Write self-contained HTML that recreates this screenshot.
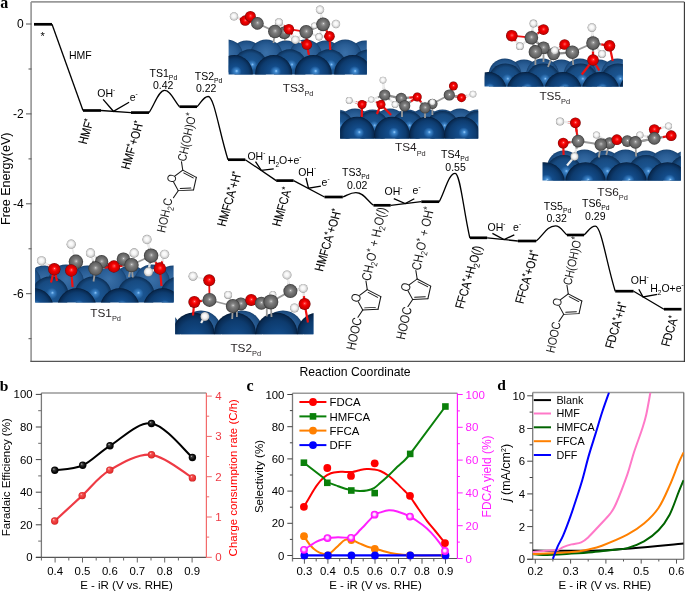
<!DOCTYPE html>
<html><head><meta charset="utf-8"><style>
html,body{margin:0;padding:0;background:#fff;overflow:hidden;}
svg{display:block;font-family:"Liberation Sans", sans-serif;will-change:transform;}
</style></head><body>
<svg width="685" height="592" viewBox="0 0 685 592">
<defs>
<radialGradient id="gC" cx="50%" cy="50%" r="50%" fx="52%" fy="45%">
 <stop offset="0" stop-color="#ececec"/><stop offset="0.12" stop-color="#a2a2a2"/><stop offset="0.35" stop-color="#7c7c7c"/><stop offset="0.8" stop-color="#606060"/><stop offset="1" stop-color="#363636"/></radialGradient>
<radialGradient id="gO" cx="50%" cy="50%" r="50%" fx="52%" fy="45%">
 <stop offset="0" stop-color="#ffb8b8"/><stop offset="0.12" stop-color="#ff3a3a"/><stop offset="0.4" stop-color="#f50000"/><stop offset="0.85" stop-color="#c80000"/><stop offset="1" stop-color="#700000"/></radialGradient>
<radialGradient id="gH" cx="50%" cy="50%" r="50%" fx="45%" fy="42%">
 <stop offset="0" stop-color="#ffffff"/><stop offset="0.5" stop-color="#f3f3f3"/><stop offset="0.85" stop-color="#cbcbcb"/><stop offset="1" stop-color="#8c8c8c"/></radialGradient>
<radialGradient id="gPdF" cx="50%" cy="50%" r="50%" fx="57%" fy="43%">
 <stop offset="0" stop-color="#9ad0ff"/><stop offset="0.09" stop-color="#3d86cc"/><stop offset="0.3" stop-color="#134c8a"/><stop offset="0.75" stop-color="#0d3b6e"/><stop offset="0.93" stop-color="#082a52"/><stop offset="1" stop-color="#041a36"/></radialGradient>
<radialGradient id="gPdM" cx="50%" cy="50%" r="50%" fx="57%" fy="43%">
 <stop offset="0" stop-color="#8cc6fa"/><stop offset="0.09" stop-color="#3a80c4"/><stop offset="0.3" stop-color="#1a5490"/><stop offset="0.75" stop-color="#174a80"/><stop offset="0.93" stop-color="#0f3763"/><stop offset="1" stop-color="#0a2a4e"/></radialGradient>
<radialGradient id="gPdF2" cx="50%" cy="50%" r="50%" fx="57%" fy="75%">
 <stop offset="0" stop-color="#9ad0ff"/><stop offset="0.09" stop-color="#3d86cc"/><stop offset="0.3" stop-color="#134c8a"/><stop offset="0.75" stop-color="#0d3b6e"/><stop offset="0.93" stop-color="#082a52"/><stop offset="1" stop-color="#041a36"/></radialGradient>
<radialGradient id="gPdB" cx="50%" cy="50%" r="50%" fx="50%" fy="40%">
 <stop offset="0" stop-color="#3a70a8"/><stop offset="0.6" stop-color="#2a5e96"/><stop offset="0.9" stop-color="#1e4f84"/><stop offset="1" stop-color="#163f6c"/></radialGradient>
<radialGradient id="gBlack" cx="50%" cy="50%" r="50%" fx="35%" fy="30%">
 <stop offset="0" stop-color="#d8d8d8"/><stop offset="0.25" stop-color="#404040"/><stop offset="0.7" stop-color="#0a0a0a"/><stop offset="1" stop-color="#000"/></radialGradient>
<radialGradient id="gRed" cx="50%" cy="50%" r="50%" fx="35%" fy="30%">
 <stop offset="0" stop-color="#ffd0d0"/><stop offset="0.3" stop-color="#f25050"/><stop offset="0.8" stop-color="#e83030"/><stop offset="1" stop-color="#c82020"/></radialGradient>
<radialGradient id="gMag" cx="50%" cy="50%" r="50%" fx="45%" fy="42%">
 <stop offset="0" stop-color="#ffffff"/><stop offset="0.35" stop-color="#ffd0ff"/><stop offset="0.6" stop-color="#ff40ff"/><stop offset="1" stop-color="#ff00ff"/></radialGradient>
</defs>
<rect width="685" height="592" fill="#fff"/>
<clipPath id="clTS3"><rect x="228.6" y="14.700000000000003" width="138.20000000000002" height="59.8"/></clipPath><g clip-path="url(#clTS3)"><circle cx="207.0" cy="57.0" r="16.5" fill="url(#gPdB)"/><circle cx="246.5" cy="57.0" r="16.5" fill="url(#gPdB)"/><circle cx="286.0" cy="57.0" r="16.5" fill="url(#gPdB)"/><circle cx="325.5" cy="57.0" r="16.5" fill="url(#gPdB)"/><circle cx="365.0" cy="57.0" r="16.5" fill="url(#gPdB)"/><circle cx="404.5" cy="57.0" r="16.5" fill="url(#gPdB)"/><circle cx="187.2" cy="56.0" r="16.5" fill="url(#gPdB)"/><circle cx="226.7" cy="56.0" r="16.5" fill="url(#gPdB)"/><circle cx="266.2" cy="56.0" r="16.5" fill="url(#gPdB)"/><circle cx="305.7" cy="56.0" r="16.5" fill="url(#gPdB)"/><circle cx="345.2" cy="56.0" r="16.5" fill="url(#gPdB)"/><circle cx="384.7" cy="56.0" r="16.5" fill="url(#gPdB)"/><circle cx="210.7" cy="66.8" r="17.5" fill="url(#gPdM)"/><circle cx="250.2" cy="66.8" r="17.5" fill="url(#gPdM)"/><circle cx="289.7" cy="66.8" r="17.5" fill="url(#gPdM)"/><circle cx="329.2" cy="66.8" r="17.5" fill="url(#gPdM)"/><circle cx="368.7" cy="66.8" r="17.5" fill="url(#gPdM)"/><circle cx="408.2" cy="66.8" r="17.5" fill="url(#gPdM)"/><circle cx="194.7" cy="73.5" r="18.5" fill="url(#gPdF)"/><circle cx="234.2" cy="73.5" r="18.5" fill="url(#gPdF)"/><circle cx="273.7" cy="73.5" r="18.5" fill="url(#gPdF)"/><circle cx="313.2" cy="73.5" r="18.5" fill="url(#gPdF)"/><circle cx="352.7" cy="73.5" r="18.5" fill="url(#gPdF)"/><circle cx="392.2" cy="73.5" r="18.5" fill="url(#gPdF)"/></g>
<line x1="245.2" y1="20.6" x2="239.60" y2="18.50" stroke="#e81010" stroke-width="2.3"/><line x1="239.60" y1="18.50" x2="234" y2="16.4" stroke="#e6e6e6" stroke-width="2.3"/><line x1="245.2" y1="20.6" x2="251.30" y2="22.00" stroke="#e81010" stroke-width="2.3"/><line x1="251.30" y1="22.00" x2="257.4" y2="23.4" stroke="#8c8c8c" stroke-width="2.3"/><line x1="250.4" y1="16.4" x2="253.90" y2="19.90" stroke="#e81010" stroke-width="2.3"/><line x1="253.90" y1="19.90" x2="257.4" y2="23.4" stroke="#8c8c8c" stroke-width="2.3"/><line x1="284.3" y1="32.7" x2="281.60" y2="27.45" stroke="#8c8c8c" stroke-width="2.3"/><line x1="281.60" y1="27.45" x2="278.9" y2="22.2" stroke="#e6e6e6" stroke-width="2.3"/><line x1="284.3" y1="32.7" x2="279.60" y2="32.10" stroke="#8c8c8c" stroke-width="2.3"/><line x1="279.60" y1="32.10" x2="274.9" y2="31.5" stroke="#8c8c8c" stroke-width="2.3"/><line x1="284.3" y1="32.7" x2="289.85" y2="36.30" stroke="#8c8c8c" stroke-width="2.3"/><line x1="289.85" y1="36.30" x2="295.4" y2="39.9" stroke="#e6e6e6" stroke-width="2.3"/><line x1="278.9" y1="22.2" x2="276.90" y2="26.85" stroke="#e6e6e6" stroke-width="2.3"/><line x1="276.90" y1="26.85" x2="274.9" y2="31.5" stroke="#8c8c8c" stroke-width="2.3"/><line x1="278.9" y1="22.2" x2="283.90" y2="25.70" stroke="#e6e6e6" stroke-width="2.3"/><line x1="283.90" y1="25.70" x2="288.9" y2="29.2" stroke="#e81010" stroke-width="2.3"/><line x1="274.9" y1="31.5" x2="281.90" y2="30.35" stroke="#8c8c8c" stroke-width="2.3"/><line x1="281.90" y1="30.35" x2="288.9" y2="29.2" stroke="#e81010" stroke-width="2.3"/><line x1="288.9" y1="29.2" x2="292.15" y2="34.55" stroke="#e81010" stroke-width="2.3"/><line x1="292.15" y1="34.55" x2="295.4" y2="39.9" stroke="#e6e6e6" stroke-width="2.3"/><line x1="314.3" y1="25.7" x2="310.25" y2="28.75" stroke="#e6e6e6" stroke-width="2.3"/><line x1="310.25" y1="28.75" x2="306.2" y2="31.8" stroke="#8c8c8c" stroke-width="2.3"/><line x1="314.3" y1="25.7" x2="318.70" y2="25.00" stroke="#e6e6e6" stroke-width="2.3"/><line x1="318.70" y1="25.00" x2="323.1" y2="24.3" stroke="#8c8c8c" stroke-width="2.3"/><line x1="306.2" y1="31.8" x2="314.65" y2="28.05" stroke="#8c8c8c" stroke-width="2.3"/><line x1="314.65" y1="28.05" x2="323.1" y2="24.3" stroke="#8c8c8c" stroke-width="2.3"/><line x1="306.2" y1="31.8" x2="300.80" y2="35.85" stroke="#8c8c8c" stroke-width="2.3"/><line x1="300.80" y1="35.85" x2="295.4" y2="39.9" stroke="#e6e6e6" stroke-width="2.3"/><line x1="306.2" y1="31.8" x2="312.60" y2="34.30" stroke="#8c8c8c" stroke-width="2.3"/><line x1="312.60" y1="34.30" x2="319" y2="36.8" stroke="#e6e6e6" stroke-width="2.3"/><line x1="306.2" y1="31.8" x2="306.55" y2="38.20" stroke="#8c8c8c" stroke-width="2.3"/><line x1="306.55" y1="38.20" x2="306.9" y2="44.6" stroke="#e81010" stroke-width="2.3"/><line x1="320" y1="9.7" x2="321.55" y2="17.00" stroke="#e6e6e6" stroke-width="2.3"/><line x1="321.55" y1="17.00" x2="323.1" y2="24.3" stroke="#8c8c8c" stroke-width="2.3"/><line x1="323.1" y1="24.3" x2="329.55" y2="24.15" stroke="#8c8c8c" stroke-width="2.3"/><line x1="329.55" y1="24.15" x2="336" y2="24" stroke="#e6e6e6" stroke-width="2.3"/><line x1="323.1" y1="24.3" x2="321.05" y2="30.55" stroke="#8c8c8c" stroke-width="2.3"/><line x1="321.05" y1="30.55" x2="319" y2="36.8" stroke="#e6e6e6" stroke-width="2.3"/><line x1="323.1" y1="24.3" x2="326.30" y2="30.25" stroke="#8c8c8c" stroke-width="2.3"/><line x1="326.30" y1="30.25" x2="329.5" y2="36.2" stroke="#e81010" stroke-width="2.3"/><line x1="295.4" y1="39.9" x2="301.15" y2="42.25" stroke="#e6e6e6" stroke-width="2.3"/><line x1="301.15" y1="42.25" x2="306.9" y2="44.6" stroke="#e81010" stroke-width="2.3"/><line x1="319" y1="36.8" x2="324.25" y2="36.50" stroke="#e6e6e6" stroke-width="2.3"/><line x1="324.25" y1="36.50" x2="329.5" y2="36.2" stroke="#e81010" stroke-width="2.3"/><line x1="306.9" y1="44.6" x2="308.9" y2="55" stroke="#ee1010" stroke-width="2.2"/><line x1="329.5" y1="36.2" x2="330.3" y2="50" stroke="#ee1010" stroke-width="2.2"/><line x1="274.9" y1="31.5" x2="273.5" y2="43" stroke="#9a9a9a" stroke-width="1.8"/><line x1="284" y1="33" x2="285" y2="41" stroke="#9a9a9a" stroke-width="1.8"/><line x1="323.1" y1="24.3" x2="320" y2="9.7" stroke="#eeeeee" stroke-width="1.8"/><line x1="323.1" y1="24.3" x2="336" y2="24" stroke="#eeeeee" stroke-width="1.8"/><line x1="257.4" y1="23.4" x2="274.9" y2="31.5" stroke="#9a9a9a" stroke-width="1.8"/><line x1="274.9" y1="31.5" x2="288.9" y2="29.2" stroke="#9a9a9a" stroke-width="1.8"/><line x1="288.9" y1="29.2" x2="306.2" y2="31.8" stroke="#ee1010" stroke-width="1.8"/><line x1="306.2" y1="31.8" x2="323.1" y2="24.3" stroke="#9a9a9a" stroke-width="1.8"/><circle cx="245.2" cy="20.6" r="5.25" fill="url(#gO)"/><circle cx="234" cy="16.4" r="4.20" fill="url(#gH)"/><circle cx="250.4" cy="16.4" r="5.46" fill="url(#gO)"/><circle cx="257.4" cy="23.4" r="6.30" fill="url(#gC)"/><circle cx="284.3" cy="32.7" r="6.30" fill="url(#gC)"/><circle cx="278.9" cy="22.2" r="3.99" fill="url(#gH)"/><circle cx="274.9" cy="31.5" r="6.83" fill="url(#gC)"/><circle cx="288.9" cy="29.2" r="5.25" fill="url(#gO)"/><circle cx="314.3" cy="25.7" r="3.15" fill="url(#gH)"/><circle cx="306.2" cy="31.8" r="6.83" fill="url(#gC)"/><circle cx="320" cy="9.7" r="4.20" fill="url(#gH)"/><circle cx="323.1" cy="24.3" r="6.83" fill="url(#gC)"/><circle cx="336" cy="24" r="4.20" fill="url(#gH)"/><circle cx="295.4" cy="39.9" r="4.20" fill="url(#gH)"/><circle cx="319" cy="36.8" r="3.68" fill="url(#gH)"/><circle cx="306.9" cy="44.6" r="5.25" fill="url(#gO)"/><circle cx="329.5" cy="36.2" r="5.25" fill="url(#gO)"/>
<text x="282.8" y="91.6" font-size="11.8" fill="#231f20">TS3<tspan font-size="7.4" dy="4.1">Pd</tspan></text>
<clipPath id="clTS4"><rect x="340.2" y="83.5" width="138.0" height="55.099999999999994"/></clipPath><g clip-path="url(#clTS4)"><circle cx="302.5" cy="126.0" r="16.5" fill="url(#gPdB)"/><circle cx="337.5" cy="126.0" r="16.5" fill="url(#gPdB)"/><circle cx="372.5" cy="126.0" r="16.5" fill="url(#gPdB)"/><circle cx="407.5" cy="126.0" r="16.5" fill="url(#gPdB)"/><circle cx="442.5" cy="126.0" r="16.5" fill="url(#gPdB)"/><circle cx="477.5" cy="126.0" r="16.5" fill="url(#gPdB)"/><circle cx="512.5" cy="126.0" r="16.5" fill="url(#gPdB)"/><circle cx="320.0" cy="125.0" r="16.5" fill="url(#gPdB)"/><circle cx="355.0" cy="125.0" r="16.5" fill="url(#gPdB)"/><circle cx="390.0" cy="125.0" r="16.5" fill="url(#gPdB)"/><circle cx="425.0" cy="125.0" r="16.5" fill="url(#gPdB)"/><circle cx="460.0" cy="125.0" r="16.5" fill="url(#gPdB)"/><circle cx="495.0" cy="125.0" r="16.5" fill="url(#gPdB)"/><circle cx="302.5" cy="127.5" r="16.5" fill="url(#gPdM)"/><circle cx="337.5" cy="127.5" r="16.5" fill="url(#gPdM)"/><circle cx="372.5" cy="127.5" r="16.5" fill="url(#gPdM)"/><circle cx="407.5" cy="127.5" r="16.5" fill="url(#gPdM)"/><circle cx="442.5" cy="127.5" r="16.5" fill="url(#gPdM)"/><circle cx="477.5" cy="127.5" r="16.5" fill="url(#gPdM)"/><circle cx="512.5" cy="127.5" r="16.5" fill="url(#gPdM)"/><circle cx="322.0" cy="134.5" r="17.8" fill="url(#gPdF)"/><circle cx="357.0" cy="134.5" r="17.8" fill="url(#gPdF)"/><circle cx="392.0" cy="134.5" r="17.8" fill="url(#gPdF)"/><circle cx="427.0" cy="134.5" r="17.8" fill="url(#gPdF)"/><circle cx="462.0" cy="134.5" r="17.8" fill="url(#gPdF)"/><circle cx="497.0" cy="134.5" r="17.8" fill="url(#gPdF)"/></g>
<line x1="349.2" y1="100.4" x2="355.60" y2="102.45" stroke="#e6e6e6" stroke-width="2.3"/><line x1="355.60" y1="102.45" x2="362" y2="104.5" stroke="#e81010" stroke-width="2.3"/><line x1="362" y1="104.5" x2="366.60" y2="102.00" stroke="#e81010" stroke-width="2.3"/><line x1="366.60" y1="102.00" x2="371.2" y2="99.5" stroke="#e6e6e6" stroke-width="2.3"/><line x1="371.2" y1="99.5" x2="377.95" y2="97.25" stroke="#e6e6e6" stroke-width="2.3"/><line x1="377.95" y1="97.25" x2="384.7" y2="95" stroke="#8c8c8c" stroke-width="2.3"/><line x1="371.2" y1="99.5" x2="376.10" y2="102.00" stroke="#e6e6e6" stroke-width="2.3"/><line x1="376.10" y1="102.00" x2="381" y2="104.5" stroke="#e81010" stroke-width="2.3"/><line x1="383" y1="80.1" x2="383.85" y2="87.55" stroke="#e6e6e6" stroke-width="2.3"/><line x1="383.85" y1="87.55" x2="384.7" y2="95" stroke="#8c8c8c" stroke-width="2.3"/><line x1="384.7" y1="95" x2="382.85" y2="99.75" stroke="#8c8c8c" stroke-width="2.3"/><line x1="382.85" y1="99.75" x2="381" y2="104.5" stroke="#e81010" stroke-width="2.3"/><line x1="384.7" y1="95" x2="392.95" y2="96.70" stroke="#8c8c8c" stroke-width="2.3"/><line x1="392.95" y1="96.70" x2="401.2" y2="98.4" stroke="#8c8c8c" stroke-width="2.3"/><line x1="384.7" y1="95" x2="389.90" y2="99.75" stroke="#8c8c8c" stroke-width="2.3"/><line x1="389.90" y1="99.75" x2="395.1" y2="104.5" stroke="#e6e6e6" stroke-width="2.3"/><line x1="401.2" y1="98.4" x2="402.95" y2="102.10" stroke="#8c8c8c" stroke-width="2.3"/><line x1="402.95" y1="102.10" x2="404.7" y2="105.8" stroke="#8c8c8c" stroke-width="2.3"/><line x1="401.2" y1="98.4" x2="398.15" y2="101.45" stroke="#8c8c8c" stroke-width="2.3"/><line x1="398.15" y1="101.45" x2="395.1" y2="104.5" stroke="#e6e6e6" stroke-width="2.3"/><line x1="401.2" y1="98.4" x2="409.25" y2="97.70" stroke="#8c8c8c" stroke-width="2.3"/><line x1="409.25" y1="97.70" x2="417.3" y2="97" stroke="#e81010" stroke-width="2.3"/><line x1="404.7" y1="105.8" x2="399.90" y2="105.15" stroke="#8c8c8c" stroke-width="2.3"/><line x1="399.90" y1="105.15" x2="395.1" y2="104.5" stroke="#e6e6e6" stroke-width="2.3"/><line x1="404.7" y1="105.8" x2="411.00" y2="101.40" stroke="#8c8c8c" stroke-width="2.3"/><line x1="411.00" y1="101.40" x2="417.3" y2="97" stroke="#e81010" stroke-width="2.3"/><line x1="417.3" y1="97" x2="421.15" y2="102.40" stroke="#e81010" stroke-width="2.3"/><line x1="421.15" y1="102.40" x2="425" y2="107.8" stroke="#8c8c8c" stroke-width="2.3"/><line x1="432.4" y1="103.8" x2="428.70" y2="105.80" stroke="#8c8c8c" stroke-width="2.3"/><line x1="428.70" y1="105.80" x2="425" y2="107.8" stroke="#8c8c8c" stroke-width="2.3"/><line x1="425" y1="107.8" x2="428.70" y2="105.00" stroke="#8c8c8c" stroke-width="2.3"/><line x1="428.70" y1="105.00" x2="432.4" y2="102.2" stroke="#e6e6e6" stroke-width="2.3"/><line x1="453.4" y1="86" x2="451.35" y2="90.50" stroke="#e81010" stroke-width="2.3"/><line x1="451.35" y1="90.50" x2="449.3" y2="95" stroke="#8c8c8c" stroke-width="2.3"/><line x1="449.3" y1="95" x2="455.40" y2="96.35" stroke="#8c8c8c" stroke-width="2.3"/><line x1="455.40" y1="96.35" x2="461.5" y2="97.7" stroke="#e81010" stroke-width="2.3"/><line x1="461.5" y1="97.7" x2="467.25" y2="95.90" stroke="#e81010" stroke-width="2.3"/><line x1="467.25" y1="95.90" x2="473" y2="94.1" stroke="#e6e6e6" stroke-width="2.3"/><line x1="362" y1="104.5" x2="361.8" y2="117" stroke="#ee1010" stroke-width="2.2"/><line x1="381" y1="104.5" x2="376.9" y2="114" stroke="#ee1010" stroke-width="2.2"/><line x1="381" y1="104.5" x2="391.1" y2="115" stroke="#ee1010" stroke-width="2.2"/><line x1="402" y1="108" x2="402" y2="117" stroke="#9a9a9a" stroke-width="1.8"/><line x1="425" y1="107.8" x2="425" y2="118" stroke="#9a9a9a" stroke-width="1.8"/><line x1="432.4" y1="104" x2="432.4" y2="115" stroke="#9a9a9a" stroke-width="1.8"/><line x1="384.7" y1="95" x2="383" y2="80.1" stroke="#eeeeee" stroke-width="1.8"/><line x1="432" y1="104" x2="449" y2="95" stroke="#9a9a9a" stroke-width="1.8"/><line x1="449.3" y1="95" x2="461.5" y2="97.7" stroke="#9a9a9a" stroke-width="1.8"/><line x1="461.5" y1="97.7" x2="473" y2="94.1" stroke="#eeeeee" stroke-width="1.8"/><line x1="349.2" y1="100.4" x2="362" y2="104.5" stroke="#eeeeee" stroke-width="1.8"/><circle cx="349.2" cy="100.4" r="3.44" fill="url(#gH)"/><circle cx="362" cy="104.5" r="4.47" fill="url(#gO)"/><circle cx="371.2" cy="99.5" r="3.10" fill="url(#gH)"/><circle cx="383" cy="80.1" r="3.44" fill="url(#gH)"/><circle cx="384.7" cy="95" r="5.59" fill="url(#gC)"/><circle cx="381" cy="104.5" r="4.47" fill="url(#gO)"/><circle cx="401.2" cy="98.4" r="5.59" fill="url(#gC)"/><circle cx="404.7" cy="105.8" r="5.59" fill="url(#gC)"/><circle cx="395.1" cy="104.5" r="3.44" fill="url(#gH)"/><circle cx="417.3" cy="97" r="4.47" fill="url(#gO)"/><circle cx="432.4" cy="103.8" r="5.16" fill="url(#gC)"/><circle cx="425" cy="107.8" r="5.59" fill="url(#gC)"/><circle cx="432.4" cy="102.2" r="3.10" fill="url(#gH)"/><circle cx="453.4" cy="86" r="4.47" fill="url(#gO)"/><circle cx="449.3" cy="95" r="5.59" fill="url(#gC)"/><circle cx="461.5" cy="97.7" r="4.47" fill="url(#gO)"/><circle cx="473" cy="94.1" r="3.44" fill="url(#gH)"/>
<text x="395.0" y="151.4" font-size="11.8" fill="#231f20">TS4<tspan font-size="7.4" dy="4.1">Pd</tspan></text>
<clipPath id="clTS5"><rect x="484.7" y="33.5" width="138.2" height="52.900000000000006"/></clipPath><g clip-path="url(#clTS5)"><circle cx="524.0" cy="76.0" r="16.5" fill="url(#gPdB)"/><circle cx="561.5" cy="76.0" r="16.5" fill="url(#gPdB)"/><circle cx="599.0" cy="76.0" r="16.5" fill="url(#gPdB)"/><circle cx="636.5" cy="76.0" r="16.5" fill="url(#gPdB)"/><circle cx="674.0" cy="76.0" r="16.5" fill="url(#gPdB)"/><circle cx="505.0" cy="75.0" r="16.5" fill="url(#gPdB)"/><circle cx="542.5" cy="75.0" r="16.5" fill="url(#gPdB)"/><circle cx="580.0" cy="75.0" r="16.5" fill="url(#gPdB)"/><circle cx="617.5" cy="75.0" r="16.5" fill="url(#gPdB)"/><circle cx="655.0" cy="75.0" r="16.5" fill="url(#gPdB)"/><circle cx="430.5" cy="81.0" r="17.5" fill="url(#gPdM)"/><circle cx="468.0" cy="81.0" r="17.5" fill="url(#gPdM)"/><circle cx="505.5" cy="81.0" r="17.5" fill="url(#gPdM)"/><circle cx="543.0" cy="81.0" r="17.5" fill="url(#gPdM)"/><circle cx="580.5" cy="81.0" r="17.5" fill="url(#gPdM)"/><circle cx="618.0" cy="81.0" r="17.5" fill="url(#gPdM)"/><circle cx="655.5" cy="81.0" r="17.5" fill="url(#gPdM)"/><circle cx="450.5" cy="90.5" r="18.5" fill="url(#gPdF)"/><circle cx="488.0" cy="90.5" r="18.5" fill="url(#gPdF)"/><circle cx="525.5" cy="90.5" r="18.5" fill="url(#gPdF)"/><circle cx="563.0" cy="90.5" r="18.5" fill="url(#gPdF)"/><circle cx="600.5" cy="90.5" r="18.5" fill="url(#gPdF)"/><circle cx="638.0" cy="90.5" r="18.5" fill="url(#gPdF)"/><circle cx="675.5" cy="90.5" r="18.5" fill="url(#gPdF)"/></g>
<line x1="511.8" y1="35.7" x2="515.85" y2="40.95" stroke="#e81010" stroke-width="2.3"/><line x1="515.85" y1="40.95" x2="519.9" y2="46.2" stroke="#e6e6e6" stroke-width="2.3"/><line x1="533.4" y1="23.5" x2="538.45" y2="26.55" stroke="#e6e6e6" stroke-width="2.3"/><line x1="538.45" y1="26.55" x2="543.5" y2="29.6" stroke="#e81010" stroke-width="2.3"/><line x1="533.4" y1="23.5" x2="532.40" y2="30.60" stroke="#e6e6e6" stroke-width="2.3"/><line x1="532.40" y1="30.60" x2="531.4" y2="37.7" stroke="#8c8c8c" stroke-width="2.3"/><line x1="543.5" y1="29.6" x2="537.45" y2="33.65" stroke="#e81010" stroke-width="2.3"/><line x1="537.45" y1="33.65" x2="531.4" y2="37.7" stroke="#8c8c8c" stroke-width="2.3"/><line x1="531.4" y1="37.7" x2="525.65" y2="41.95" stroke="#8c8c8c" stroke-width="2.3"/><line x1="525.65" y1="41.95" x2="519.9" y2="46.2" stroke="#e6e6e6" stroke-width="2.3"/><line x1="531.4" y1="37.7" x2="537.45" y2="42.75" stroke="#8c8c8c" stroke-width="2.3"/><line x1="537.45" y1="42.75" x2="543.5" y2="47.8" stroke="#8c8c8c" stroke-width="2.3"/><line x1="531.4" y1="37.7" x2="533.40" y2="44.80" stroke="#8c8c8c" stroke-width="2.3"/><line x1="533.40" y1="44.80" x2="535.4" y2="51.9" stroke="#8c8c8c" stroke-width="2.3"/><line x1="543.5" y1="47.8" x2="539.45" y2="49.85" stroke="#8c8c8c" stroke-width="2.3"/><line x1="539.45" y1="49.85" x2="535.4" y2="51.9" stroke="#8c8c8c" stroke-width="2.3"/><line x1="543.5" y1="47.8" x2="548.55" y2="50.85" stroke="#8c8c8c" stroke-width="2.3"/><line x1="548.55" y1="50.85" x2="553.6" y2="53.9" stroke="#8c8c8c" stroke-width="2.3"/><line x1="543.5" y1="47.8" x2="549.10" y2="49.15" stroke="#8c8c8c" stroke-width="2.3"/><line x1="549.10" y1="49.15" x2="554.7" y2="50.5" stroke="#e6e6e6" stroke-width="2.3"/><line x1="535.4" y1="51.9" x2="544.50" y2="52.90" stroke="#8c8c8c" stroke-width="2.3"/><line x1="544.50" y1="52.90" x2="553.6" y2="53.9" stroke="#8c8c8c" stroke-width="2.3"/><line x1="564.6" y1="44.5" x2="559.10" y2="49.20" stroke="#e81010" stroke-width="2.3"/><line x1="559.10" y1="49.20" x2="553.6" y2="53.9" stroke="#8c8c8c" stroke-width="2.3"/><line x1="564.6" y1="44.5" x2="559.65" y2="47.50" stroke="#e81010" stroke-width="2.3"/><line x1="559.65" y1="47.50" x2="554.7" y2="50.5" stroke="#e6e6e6" stroke-width="2.3"/><line x1="564.6" y1="44.5" x2="568.45" y2="48.35" stroke="#e81010" stroke-width="2.3"/><line x1="568.45" y1="48.35" x2="572.3" y2="52.2" stroke="#8c8c8c" stroke-width="2.3"/><line x1="553.6" y1="53.9" x2="562.95" y2="53.05" stroke="#8c8c8c" stroke-width="2.3"/><line x1="562.95" y1="53.05" x2="572.3" y2="52.2" stroke="#8c8c8c" stroke-width="2.3"/><line x1="591.9" y1="27.6" x2="592.45" y2="35.35" stroke="#e6e6e6" stroke-width="2.3"/><line x1="592.45" y1="35.35" x2="593" y2="43.1" stroke="#8c8c8c" stroke-width="2.3"/><line x1="593" y1="43.1" x2="601.25" y2="44.45" stroke="#8c8c8c" stroke-width="2.3"/><line x1="601.25" y1="44.45" x2="609.5" y2="45.8" stroke="#e81010" stroke-width="2.3"/><line x1="593" y1="43.1" x2="597.50" y2="48.50" stroke="#8c8c8c" stroke-width="2.3"/><line x1="597.50" y1="48.50" x2="602" y2="53.9" stroke="#e6e6e6" stroke-width="2.3"/><line x1="593" y1="43.1" x2="593.00" y2="51.55" stroke="#8c8c8c" stroke-width="2.3"/><line x1="593.00" y1="51.55" x2="593" y2="60" stroke="#e81010" stroke-width="2.3"/><line x1="609.5" y1="45.8" x2="605.75" y2="49.85" stroke="#e81010" stroke-width="2.3"/><line x1="605.75" y1="49.85" x2="602" y2="53.9" stroke="#e6e6e6" stroke-width="2.3"/><line x1="602" y1="53.9" x2="597.50" y2="56.95" stroke="#e6e6e6" stroke-width="2.3"/><line x1="597.50" y1="56.95" x2="593" y2="60" stroke="#e81010" stroke-width="2.3"/><line x1="535.4" y1="52" x2="535.4" y2="65" stroke="#9a9a9a" stroke-width="1.8"/><line x1="543.5" y1="48" x2="543.5" y2="62" stroke="#9a9a9a" stroke-width="1.8"/><line x1="553" y1="54" x2="548" y2="67" stroke="#9a9a9a" stroke-width="1.8"/><line x1="572.3" y1="52" x2="573.2" y2="65" stroke="#9a9a9a" stroke-width="1.8"/><line x1="593" y1="60" x2="581.8" y2="74.5" stroke="#ee1010" stroke-width="2.2"/><line x1="593" y1="60" x2="599.3" y2="70.5" stroke="#ee1010" stroke-width="2.2"/><line x1="609.5" y1="45.8" x2="612.8" y2="61" stroke="#ee1010" stroke-width="2.2"/><line x1="572.3" y1="52.2" x2="593" y2="43.1" stroke="#9a9a9a" stroke-width="1.8"/><line x1="593" y1="43.1" x2="591.9" y2="27.6" stroke="#eeeeee" stroke-width="1.8"/><line x1="511.8" y1="35.7" x2="531.4" y2="37.7" stroke="#ee1010" stroke-width="1.8"/><line x1="564.6" y1="44.5" x2="572.3" y2="52.2" stroke="#ee1010" stroke-width="1.8"/><circle cx="511.8" cy="35.7" r="5.82" fill="url(#gO)"/><circle cx="533.4" cy="23.5" r="3.88" fill="url(#gH)"/><circle cx="543.5" cy="29.6" r="5.33" fill="url(#gO)"/><circle cx="531.4" cy="37.7" r="6.79" fill="url(#gC)"/><circle cx="519.9" cy="46.2" r="3.88" fill="url(#gH)"/><circle cx="543.5" cy="47.8" r="6.30" fill="url(#gC)"/><circle cx="535.4" cy="51.9" r="6.79" fill="url(#gC)"/><circle cx="564.6" cy="44.5" r="5.33" fill="url(#gO)"/><circle cx="553.6" cy="53.9" r="6.30" fill="url(#gC)"/><circle cx="554.7" cy="50.5" r="3.88" fill="url(#gH)"/><circle cx="572.3" cy="52.2" r="6.79" fill="url(#gC)"/><circle cx="591.9" cy="27.6" r="4.37" fill="url(#gH)"/><circle cx="593" cy="43.1" r="6.79" fill="url(#gC)"/><circle cx="609.5" cy="45.8" r="5.82" fill="url(#gO)"/><circle cx="602" cy="53.9" r="3.88" fill="url(#gH)"/><circle cx="593" cy="60" r="5.82" fill="url(#gO)"/>
<text x="539.4" y="99.9" font-size="11.8" fill="#231f20">TS5<tspan font-size="7.4" dy="4.1">Pd</tspan></text>
<clipPath id="clTS6"><rect x="542.5" y="124.5" width="138.29999999999995" height="56.099999999999994"/></clipPath><g clip-path="url(#clTS6)"><circle cx="564.0" cy="167.5" r="17" fill="url(#gPdB)"/><circle cx="605.0" cy="167.5" r="17" fill="url(#gPdB)"/><circle cx="646.0" cy="167.5" r="17" fill="url(#gPdB)"/><circle cx="687.0" cy="167.5" r="17" fill="url(#gPdB)"/><circle cx="728.0" cy="167.5" r="17" fill="url(#gPdB)"/><circle cx="584.5" cy="166.5" r="17" fill="url(#gPdB)"/><circle cx="625.5" cy="166.5" r="17" fill="url(#gPdB)"/><circle cx="666.5" cy="166.5" r="17" fill="url(#gPdB)"/><circle cx="707.5" cy="166.5" r="17" fill="url(#gPdB)"/><circle cx="523.0" cy="173.5" r="18.5" fill="url(#gPdM)"/><circle cx="564.0" cy="173.5" r="18.5" fill="url(#gPdM)"/><circle cx="605.0" cy="173.5" r="18.5" fill="url(#gPdM)"/><circle cx="646.0" cy="173.5" r="18.5" fill="url(#gPdM)"/><circle cx="687.0" cy="173.5" r="18.5" fill="url(#gPdM)"/><circle cx="728.0" cy="173.5" r="18.5" fill="url(#gPdM)"/><circle cx="503.5" cy="182.5" r="20.3" fill="url(#gPdF)"/><circle cx="544.5" cy="182.5" r="20.3" fill="url(#gPdF)"/><circle cx="585.5" cy="182.5" r="20.3" fill="url(#gPdF)"/><circle cx="626.5" cy="182.5" r="20.3" fill="url(#gPdF)"/><circle cx="667.5" cy="182.5" r="20.3" fill="url(#gPdF)"/><circle cx="708.5" cy="182.5" r="20.3" fill="url(#gPdF)"/></g>
<line x1="560" y1="121.5" x2="567.70" y2="122.15" stroke="#e6e6e6" stroke-width="2.3"/><line x1="567.70" y1="122.15" x2="575.4" y2="122.8" stroke="#e81010" stroke-width="2.3"/><line x1="575.4" y1="122.8" x2="576.75" y2="131.95" stroke="#e81010" stroke-width="2.3"/><line x1="576.75" y1="131.95" x2="578.1" y2="141.1" stroke="#8c8c8c" stroke-width="2.3"/><line x1="563.2" y1="143.1" x2="570.65" y2="142.10" stroke="#e81010" stroke-width="2.3"/><line x1="570.65" y1="142.10" x2="578.1" y2="141.1" stroke="#8c8c8c" stroke-width="2.3"/><line x1="578.1" y1="141.1" x2="576.30" y2="148.85" stroke="#8c8c8c" stroke-width="2.3"/><line x1="576.30" y1="148.85" x2="574.5" y2="156.6" stroke="#e6e6e6" stroke-width="2.3"/><line x1="596.5" y1="135" x2="603.05" y2="139.05" stroke="#e6e6e6" stroke-width="2.3"/><line x1="603.05" y1="139.05" x2="609.6" y2="143.1" stroke="#8c8c8c" stroke-width="2.3"/><line x1="596.5" y1="135" x2="598.65" y2="139.75" stroke="#e6e6e6" stroke-width="2.3"/><line x1="598.65" y1="139.75" x2="600.8" y2="144.5" stroke="#8c8c8c" stroke-width="2.3"/><line x1="609.6" y1="143.1" x2="605.20" y2="143.80" stroke="#8c8c8c" stroke-width="2.3"/><line x1="605.20" y1="143.80" x2="600.8" y2="144.5" stroke="#8c8c8c" stroke-width="2.3"/><line x1="609.6" y1="143.1" x2="613.25" y2="141.40" stroke="#8c8c8c" stroke-width="2.3"/><line x1="613.25" y1="141.40" x2="616.9" y2="139.7" stroke="#e81010" stroke-width="2.3"/><line x1="609.6" y1="143.1" x2="618.45" y2="142.10" stroke="#8c8c8c" stroke-width="2.3"/><line x1="618.45" y1="142.10" x2="627.3" y2="141.1" stroke="#8c8c8c" stroke-width="2.3"/><line x1="600.8" y1="144.5" x2="608.85" y2="142.10" stroke="#8c8c8c" stroke-width="2.3"/><line x1="608.85" y1="142.10" x2="616.9" y2="139.7" stroke="#e81010" stroke-width="2.3"/><line x1="616.9" y1="139.7" x2="622.10" y2="140.40" stroke="#e81010" stroke-width="2.3"/><line x1="622.10" y1="140.40" x2="627.3" y2="141.1" stroke="#8c8c8c" stroke-width="2.3"/><line x1="627.3" y1="141.1" x2="633.60" y2="138.05" stroke="#8c8c8c" stroke-width="2.3"/><line x1="633.60" y1="138.05" x2="639.9" y2="135" stroke="#e6e6e6" stroke-width="2.3"/><line x1="627.3" y1="141.1" x2="631.35" y2="141.75" stroke="#8c8c8c" stroke-width="2.3"/><line x1="631.35" y1="141.75" x2="635.4" y2="142.4" stroke="#8c8c8c" stroke-width="2.3"/><line x1="639.9" y1="135" x2="637.65" y2="138.70" stroke="#e6e6e6" stroke-width="2.3"/><line x1="637.65" y1="138.70" x2="635.4" y2="142.4" stroke="#8c8c8c" stroke-width="2.3"/><line x1="639.9" y1="135" x2="647.10" y2="136.70" stroke="#e6e6e6" stroke-width="2.3"/><line x1="647.10" y1="136.70" x2="654.3" y2="138.4" stroke="#8c8c8c" stroke-width="2.3"/><line x1="635.4" y1="142.4" x2="644.85" y2="140.40" stroke="#8c8c8c" stroke-width="2.3"/><line x1="644.85" y1="140.40" x2="654.3" y2="138.4" stroke="#8c8c8c" stroke-width="2.3"/><line x1="654.3" y1="129.6" x2="654.30" y2="134.00" stroke="#e81010" stroke-width="2.3"/><line x1="654.30" y1="134.00" x2="654.3" y2="138.4" stroke="#8c8c8c" stroke-width="2.3"/><line x1="654.3" y1="129.6" x2="661.40" y2="127.80" stroke="#e81010" stroke-width="2.3"/><line x1="661.40" y1="127.80" x2="668.5" y2="126" stroke="#e6e6e6" stroke-width="2.3"/><line x1="654.3" y1="138.4" x2="662.75" y2="137.05" stroke="#8c8c8c" stroke-width="2.3"/><line x1="662.75" y1="137.05" x2="671.2" y2="135.7" stroke="#e81010" stroke-width="2.3"/><line x1="668.5" y1="126" x2="669.85" y2="130.85" stroke="#e6e6e6" stroke-width="2.3"/><line x1="669.85" y1="130.85" x2="671.2" y2="135.7" stroke="#e81010" stroke-width="2.3"/><line x1="563.2" y1="143" x2="563.6" y2="155" stroke="#ee1010" stroke-width="2.2"/><line x1="574.5" y1="156.6" x2="567" y2="165.5" stroke="#eeeeee" stroke-width="2.2"/><line x1="600.8" y1="144.5" x2="598.8" y2="157.5" stroke="#9a9a9a" stroke-width="1.8"/><line x1="609.6" y1="143" x2="606.2" y2="155" stroke="#9a9a9a" stroke-width="1.8"/><line x1="635.4" y1="142.4" x2="636.1" y2="156.5" stroke="#9a9a9a" stroke-width="1.8"/><line x1="578" y1="141" x2="575.4" y2="122.8" stroke="#ee1010" stroke-width="1.8"/><line x1="578" y1="141" x2="600.8" y2="144.5" stroke="#9a9a9a" stroke-width="1.8"/><line x1="635.4" y1="142.4" x2="654.3" y2="138.4" stroke="#9a9a9a" stroke-width="1.8"/><line x1="560" y1="121.5" x2="575.4" y2="122.8" stroke="#eeeeee" stroke-width="1.8"/><line x1="668.5" y1="126" x2="671.2" y2="135.7" stroke="#eeeeee" stroke-width="1.8"/><circle cx="560" cy="121.5" r="4.05" fill="url(#gH)"/><circle cx="575.4" cy="122.8" r="5.40" fill="url(#gO)"/><circle cx="563.2" cy="143.1" r="5.40" fill="url(#gO)"/><circle cx="578.1" cy="141.1" r="6.30" fill="url(#gC)"/><circle cx="574.5" cy="156.6" r="4.05" fill="url(#gH)"/><circle cx="596.5" cy="135" r="3.60" fill="url(#gH)"/><circle cx="609.6" cy="143.1" r="5.85" fill="url(#gC)"/><circle cx="600.8" cy="144.5" r="6.30" fill="url(#gC)"/><circle cx="616.9" cy="139.7" r="5.40" fill="url(#gO)"/><circle cx="627.3" cy="141.1" r="5.85" fill="url(#gC)"/><circle cx="639.9" cy="135" r="3.60" fill="url(#gH)"/><circle cx="635.4" cy="142.4" r="6.30" fill="url(#gC)"/><circle cx="654.3" cy="129.6" r="5.40" fill="url(#gO)"/><circle cx="654.3" cy="138.4" r="6.30" fill="url(#gC)"/><circle cx="668.5" cy="126" r="3.60" fill="url(#gH)"/><circle cx="671.2" cy="135.7" r="5.40" fill="url(#gO)"/>
<text x="597.2" y="196.0" font-size="11.8" fill="#231f20">TS6<tspan font-size="7.4" dy="4.1">Pd</tspan></text>
<clipPath id="clTS1"><rect x="35.2" y="239.60000000000002" width="138.39999999999998" height="62.89999999999998"/></clipPath><g clip-path="url(#clTS1)"><circle cx="1.5" cy="283.5" r="18" fill="url(#gPdB)"/><circle cx="44.5" cy="283.5" r="18" fill="url(#gPdB)"/><circle cx="87.5" cy="283.5" r="18" fill="url(#gPdB)"/><circle cx="130.5" cy="283.5" r="18" fill="url(#gPdB)"/><circle cx="173.5" cy="283.5" r="18" fill="url(#gPdB)"/><circle cx="216.5" cy="283.5" r="18" fill="url(#gPdB)"/><circle cx="-20.0" cy="282.5" r="18" fill="url(#gPdB)"/><circle cx="23.0" cy="282.5" r="18" fill="url(#gPdB)"/><circle cx="66.0" cy="282.5" r="18" fill="url(#gPdB)"/><circle cx="109.0" cy="282.5" r="18" fill="url(#gPdB)"/><circle cx="152.0" cy="282.5" r="18" fill="url(#gPdB)"/><circle cx="195.0" cy="282.5" r="18" fill="url(#gPdB)"/><circle cx="7.0" cy="295.3" r="18.7" fill="url(#gPdM)"/><circle cx="50.0" cy="295.3" r="18.7" fill="url(#gPdM)"/><circle cx="93.0" cy="295.3" r="18.7" fill="url(#gPdM)"/><circle cx="136.0" cy="295.3" r="18.7" fill="url(#gPdM)"/><circle cx="179.0" cy="295.3" r="18.7" fill="url(#gPdM)"/><circle cx="222.0" cy="295.3" r="18.7" fill="url(#gPdM)"/><circle cx="-9.2" cy="307.8" r="19.5" fill="url(#gPdF)"/><circle cx="33.8" cy="307.8" r="19.5" fill="url(#gPdF)"/><circle cx="76.8" cy="307.8" r="19.5" fill="url(#gPdF)"/><circle cx="119.8" cy="307.8" r="19.5" fill="url(#gPdF)"/><circle cx="162.8" cy="307.8" r="19.5" fill="url(#gPdF)"/><circle cx="205.8" cy="307.8" r="19.5" fill="url(#gPdF)"/></g>
<line x1="41.5" y1="260.8" x2="47.90" y2="265.00" stroke="#e6e6e6" stroke-width="2.3"/><line x1="47.90" y1="265.00" x2="54.3" y2="269.2" stroke="#e81010" stroke-width="2.3"/><line x1="75.9" y1="261.8" x2="73.55" y2="266.15" stroke="#8c8c8c" stroke-width="2.3"/><line x1="73.55" y1="266.15" x2="71.2" y2="270.5" stroke="#e81010" stroke-width="2.3"/><line x1="90.5" y1="253" x2="96.05" y2="257.40" stroke="#e6e6e6" stroke-width="2.3"/><line x1="96.05" y1="257.40" x2="101.6" y2="261.8" stroke="#8c8c8c" stroke-width="2.3"/><line x1="90.5" y1="253" x2="93.00" y2="260.75" stroke="#e6e6e6" stroke-width="2.3"/><line x1="93.00" y1="260.75" x2="95.5" y2="268.5" stroke="#8c8c8c" stroke-width="2.3"/><line x1="101.6" y1="261.8" x2="98.55" y2="265.15" stroke="#8c8c8c" stroke-width="2.3"/><line x1="98.55" y1="265.15" x2="95.5" y2="268.5" stroke="#8c8c8c" stroke-width="2.3"/><line x1="101.6" y1="261.8" x2="107.75" y2="264.15" stroke="#8c8c8c" stroke-width="2.3"/><line x1="107.75" y1="264.15" x2="113.9" y2="266.5" stroke="#e81010" stroke-width="2.3"/><line x1="95.5" y1="268.5" x2="104.70" y2="267.50" stroke="#8c8c8c" stroke-width="2.3"/><line x1="104.70" y1="267.50" x2="113.9" y2="266.5" stroke="#e81010" stroke-width="2.3"/><line x1="113.9" y1="266.5" x2="118.65" y2="262.80" stroke="#e81010" stroke-width="2.3"/><line x1="118.65" y1="262.80" x2="123.4" y2="259.1" stroke="#8c8c8c" stroke-width="2.3"/><line x1="113.9" y1="266.5" x2="122.70" y2="265.80" stroke="#e81010" stroke-width="2.3"/><line x1="122.70" y1="265.80" x2="131.5" y2="265.1" stroke="#8c8c8c" stroke-width="2.3"/><line x1="123.4" y1="259.1" x2="128.80" y2="256.05" stroke="#8c8c8c" stroke-width="2.3"/><line x1="128.80" y1="256.05" x2="134.2" y2="253" stroke="#e6e6e6" stroke-width="2.3"/><line x1="123.4" y1="259.1" x2="127.45" y2="262.10" stroke="#8c8c8c" stroke-width="2.3"/><line x1="127.45" y1="262.10" x2="131.5" y2="265.1" stroke="#8c8c8c" stroke-width="2.3"/><line x1="134.2" y1="253" x2="132.85" y2="259.05" stroke="#e6e6e6" stroke-width="2.3"/><line x1="132.85" y1="259.05" x2="131.5" y2="265.1" stroke="#8c8c8c" stroke-width="2.3"/><line x1="147" y1="239.5" x2="149.05" y2="247.60" stroke="#e6e6e6" stroke-width="2.3"/><line x1="149.05" y1="247.60" x2="151.1" y2="255.7" stroke="#8c8c8c" stroke-width="2.3"/><line x1="151.1" y1="255.7" x2="157.85" y2="255.00" stroke="#8c8c8c" stroke-width="2.3"/><line x1="157.85" y1="255.00" x2="164.6" y2="254.3" stroke="#e6e6e6" stroke-width="2.3"/><line x1="151.1" y1="255.7" x2="149.75" y2="263.80" stroke="#8c8c8c" stroke-width="2.3"/><line x1="149.75" y1="263.80" x2="148.4" y2="271.9" stroke="#e6e6e6" stroke-width="2.3"/><line x1="151.1" y1="255.7" x2="155.50" y2="262.10" stroke="#8c8c8c" stroke-width="2.3"/><line x1="155.50" y1="262.10" x2="159.9" y2="268.5" stroke="#e81010" stroke-width="2.3"/><line x1="164.6" y1="254.3" x2="162.25" y2="261.40" stroke="#e6e6e6" stroke-width="2.3"/><line x1="162.25" y1="261.40" x2="159.9" y2="268.5" stroke="#e81010" stroke-width="2.3"/><line x1="148.4" y1="271.9" x2="154.15" y2="270.20" stroke="#e6e6e6" stroke-width="2.3"/><line x1="154.15" y1="270.20" x2="159.9" y2="268.5" stroke="#e81010" stroke-width="2.3"/><line x1="54.3" y1="269.2" x2="51" y2="282.5" stroke="#ee1010" stroke-width="2.2"/><line x1="54.3" y1="269.2" x2="57" y2="281" stroke="#ee1010" stroke-width="2.2"/><line x1="71.2" y1="270.5" x2="72.6" y2="287" stroke="#ee1010" stroke-width="2.2"/><line x1="95.5" y1="268.5" x2="93.5" y2="281.5" stroke="#9a9a9a" stroke-width="1.8"/><line x1="131.5" y1="265" x2="132.8" y2="277.5" stroke="#9a9a9a" stroke-width="1.8"/><line x1="131.5" y1="265" x2="128.8" y2="277" stroke="#9a9a9a" stroke-width="1.8"/><line x1="159.9" y1="268.5" x2="161.5" y2="286" stroke="#ee1010" stroke-width="2.2"/><line x1="75.9" y1="261.8" x2="71.2" y2="244.2" stroke="#eeeeee" stroke-width="1.8"/><line x1="151.1" y1="255.7" x2="147" y2="239.5" stroke="#eeeeee" stroke-width="1.8"/><line x1="131.5" y1="265" x2="151.1" y2="255.7" stroke="#9a9a9a" stroke-width="1.8"/><line x1="41.5" y1="260.8" x2="54.3" y2="269.2" stroke="#eeeeee" stroke-width="1.8"/><line x1="151.1" y1="255.7" x2="164.6" y2="254.3" stroke="#eeeeee" stroke-width="1.8"/><circle cx="41.5" cy="260.8" r="4.63" fill="url(#gH)"/><circle cx="54.3" cy="269.2" r="6.18" fill="url(#gO)"/><circle cx="71.2" cy="244.2" r="4.63" fill="url(#gH)"/><circle cx="75.9" cy="261.8" r="7.21" fill="url(#gC)"/><circle cx="71.2" cy="270.5" r="6.18" fill="url(#gO)"/><circle cx="90.5" cy="253" r="4.63" fill="url(#gH)"/><circle cx="101.6" cy="261.8" r="6.70" fill="url(#gC)"/><circle cx="95.5" cy="268.5" r="7.21" fill="url(#gC)"/><circle cx="113.9" cy="266.5" r="6.18" fill="url(#gO)"/><circle cx="123.4" cy="259.1" r="6.70" fill="url(#gC)"/><circle cx="134.2" cy="253" r="4.63" fill="url(#gH)"/><circle cx="131.5" cy="265.1" r="7.21" fill="url(#gC)"/><circle cx="147" cy="239.5" r="4.63" fill="url(#gH)"/><circle cx="151.1" cy="255.7" r="7.21" fill="url(#gC)"/><circle cx="164.6" cy="254.3" r="4.63" fill="url(#gH)"/><circle cx="148.4" cy="271.9" r="4.63" fill="url(#gH)"/><circle cx="159.9" cy="268.5" r="6.18" fill="url(#gO)"/>
<text x="90.3" y="316.7" font-size="11.8" fill="#231f20">TS1<tspan font-size="7.4" dy="4.1">Pd</tspan></text>
<clipPath id="clTS2"><rect x="175.2" y="286.5" width="138.2" height="47.80000000000001"/></clipPath><g clip-path="url(#clTS2)"><circle cx="119.0" cy="331.0" r="20.5" fill="url(#gPdB)"/><circle cx="160.0" cy="331.0" r="20.5" fill="url(#gPdB)"/><circle cx="201.0" cy="331.0" r="20.5" fill="url(#gPdB)"/><circle cx="242.0" cy="331.0" r="20.5" fill="url(#gPdB)"/><circle cx="283.0" cy="331.0" r="20.5" fill="url(#gPdB)"/><circle cx="324.0" cy="331.0" r="20.5" fill="url(#gPdB)"/><circle cx="365.0" cy="331.0" r="20.5" fill="url(#gPdB)"/><circle cx="152.0" cy="333.6" r="21" fill="url(#gPdF2)"/><circle cx="193.5" cy="333.6" r="21" fill="url(#gPdF2)"/><circle cx="235.0" cy="333.6" r="21" fill="url(#gPdF2)"/><circle cx="276.5" cy="333.6" r="21" fill="url(#gPdF2)"/><circle cx="318.0" cy="333.6" r="21" fill="url(#gPdF2)"/><circle cx="359.5" cy="333.6" r="21" fill="url(#gPdF2)"/></g>
<line x1="194.3" y1="301.9" x2="201.90" y2="300.90" stroke="#e81010" stroke-width="2.3"/><line x1="201.90" y1="300.90" x2="209.5" y2="299.9" stroke="#8c8c8c" stroke-width="2.3"/><line x1="228.1" y1="294.9" x2="230.45" y2="300.45" stroke="#e6e6e6" stroke-width="2.3"/><line x1="230.45" y1="300.45" x2="232.8" y2="306" stroke="#8c8c8c" stroke-width="2.3"/><line x1="240.9" y1="303.9" x2="236.85" y2="304.95" stroke="#8c8c8c" stroke-width="2.3"/><line x1="236.85" y1="304.95" x2="232.8" y2="306" stroke="#8c8c8c" stroke-width="2.3"/><line x1="240.9" y1="303.9" x2="246.05" y2="301.90" stroke="#8c8c8c" stroke-width="2.3"/><line x1="246.05" y1="301.90" x2="251.2" y2="299.9" stroke="#e81010" stroke-width="2.3"/><line x1="251.2" y1="299.9" x2="256.30" y2="301.55" stroke="#e81010" stroke-width="2.3"/><line x1="256.30" y1="301.55" x2="261.4" y2="303.2" stroke="#8c8c8c" stroke-width="2.3"/><line x1="261.4" y1="303.2" x2="267.10" y2="298.85" stroke="#8c8c8c" stroke-width="2.3"/><line x1="267.10" y1="298.85" x2="272.8" y2="294.5" stroke="#e6e6e6" stroke-width="2.3"/><line x1="261.4" y1="303.2" x2="266.10" y2="302.55" stroke="#8c8c8c" stroke-width="2.3"/><line x1="266.10" y1="302.55" x2="270.8" y2="301.9" stroke="#8c8c8c" stroke-width="2.3"/><line x1="272.8" y1="294.5" x2="271.80" y2="298.20" stroke="#e6e6e6" stroke-width="2.3"/><line x1="271.80" y1="298.20" x2="270.8" y2="301.9" stroke="#8c8c8c" stroke-width="2.3"/><line x1="287" y1="274.9" x2="288.70" y2="283.00" stroke="#e6e6e6" stroke-width="2.3"/><line x1="288.70" y1="283.00" x2="290.4" y2="291.1" stroke="#8c8c8c" stroke-width="2.3"/><line x1="290.4" y1="291.1" x2="296.80" y2="289.75" stroke="#8c8c8c" stroke-width="2.3"/><line x1="296.80" y1="289.75" x2="303.2" y2="288.4" stroke="#e6e6e6" stroke-width="2.3"/><line x1="303.2" y1="288.4" x2="303.90" y2="296.15" stroke="#e6e6e6" stroke-width="2.3"/><line x1="303.90" y1="296.15" x2="304.6" y2="303.9" stroke="#e81010" stroke-width="2.3"/><line x1="294.5" y1="308" x2="299.55" y2="305.95" stroke="#e6e6e6" stroke-width="2.3"/><line x1="299.55" y1="305.95" x2="304.6" y2="303.9" stroke="#e81010" stroke-width="2.3"/><line x1="194.3" y1="301.9" x2="193" y2="315.5" stroke="#ee1010" stroke-width="2.2"/><line x1="204.9" y1="316.5" x2="201.1" y2="323" stroke="#eeeeee" stroke-width="2.2"/><line x1="232.8" y1="306" x2="232.2" y2="319" stroke="#9a9a9a" stroke-width="1.8"/><line x1="236.9" y1="305" x2="236.9" y2="317" stroke="#9a9a9a" stroke-width="1.8"/><line x1="270.8" y1="302" x2="271.5" y2="317" stroke="#9a9a9a" stroke-width="1.8"/><line x1="266.8" y1="302" x2="266.8" y2="316.5" stroke="#9a9a9a" stroke-width="1.8"/><line x1="304.6" y1="303.9" x2="308" y2="322.5" stroke="#ee1010" stroke-width="2.2"/><line x1="209.5" y1="299.9" x2="209.2" y2="280.3" stroke="#ee1010" stroke-width="1.8"/><line x1="209.5" y1="300" x2="232.8" y2="306" stroke="#9a9a9a" stroke-width="1.8"/><line x1="270.8" y1="302" x2="290.4" y2="291.1" stroke="#9a9a9a" stroke-width="1.8"/><line x1="290.4" y1="291.1" x2="287" y2="274.9" stroke="#eeeeee" stroke-width="1.8"/><line x1="193" y1="276.2" x2="209.2" y2="280.3" stroke="#eeeeee" stroke-width="1.8"/><line x1="290.4" y1="291.1" x2="303.2" y2="288.4" stroke="#eeeeee" stroke-width="1.8"/><circle cx="193" cy="276.2" r="4.50" fill="url(#gH)"/><circle cx="209.2" cy="280.3" r="6.00" fill="url(#gO)"/><circle cx="194.3" cy="301.9" r="6.00" fill="url(#gO)"/><circle cx="209.5" cy="299.9" r="7.00" fill="url(#gC)"/><circle cx="204.9" cy="316.5" r="4.50" fill="url(#gH)"/><circle cx="228.1" cy="294.9" r="4.00" fill="url(#gH)"/><circle cx="240.9" cy="303.9" r="6.50" fill="url(#gC)"/><circle cx="232.8" cy="306" r="7.00" fill="url(#gC)"/><circle cx="251.2" cy="299.9" r="6.00" fill="url(#gO)"/><circle cx="261.4" cy="303.2" r="6.50" fill="url(#gC)"/><circle cx="272.8" cy="294.5" r="3.50" fill="url(#gH)"/><circle cx="270.8" cy="301.9" r="7.50" fill="url(#gC)"/><circle cx="287" cy="274.9" r="4.50" fill="url(#gH)"/><circle cx="290.4" cy="291.1" r="7.00" fill="url(#gC)"/><circle cx="303.2" cy="288.4" r="4.50" fill="url(#gH)"/><circle cx="294.5" cy="308" r="4.50" fill="url(#gH)"/><circle cx="304.6" cy="303.9" r="6.00" fill="url(#gO)"/>
<text x="230.4" y="351.6" font-size="11.8" fill="#231f20">TS2<tspan font-size="7.4" dy="4.1">Pd</tspan></text>
<path d="M31.1,1.9 L684.4,1.9" stroke="#999" stroke-width="1.8" fill="none"/>
<path d="M31.1,1.9 L31.1,361.3" stroke="#959595" stroke-width="1.6" fill="none"/>
<path d="M30.3,361.4 L684.9,361.4" stroke="#555" stroke-width="1.1" fill="none"/>
<path d="M684.4,1.9 L684.4,361.9" stroke="#333" stroke-width="1.1" fill="none"/>
<line x1="26" y1="24.0" x2="31.5" y2="24.0" stroke="#555" stroke-width="1"/>
<text x="23.6" y="28.1" font-size="12" text-anchor="end" fill="#000" >0</text>
<line x1="26" y1="113.9" x2="31.5" y2="113.9" stroke="#555" stroke-width="1"/>
<text x="23.6" y="118.0" font-size="12" text-anchor="end" fill="#000" >-2</text>
<line x1="26" y1="203.8" x2="31.5" y2="203.8" stroke="#555" stroke-width="1"/>
<text x="23.6" y="207.9" font-size="12" text-anchor="end" fill="#000" >-4</text>
<line x1="26" y1="293.7" x2="31.5" y2="293.7" stroke="#555" stroke-width="1"/>
<text x="23.6" y="297.8" font-size="12" text-anchor="end" fill="#000" >-6</text>
<line x1="28.5" y1="69.0" x2="31.5" y2="69.0" stroke="#555" stroke-width="1"/>
<line x1="28.5" y1="158.9" x2="31.5" y2="158.9" stroke="#555" stroke-width="1"/>
<line x1="28.5" y1="248.8" x2="31.5" y2="248.8" stroke="#555" stroke-width="1"/>
<line x1="28.5" y1="338.7" x2="31.5" y2="338.7" stroke="#555" stroke-width="1"/>
<text transform="translate(10.2,178.8) rotate(-90)" font-size="12.5" text-anchor="middle">Free Energy(eV)</text>
<text x="355.1" y="375.6" font-size="12.2" text-anchor="middle" fill="#000" >Reaction Coordinate</text>
<text x="0.2" y="7.6" font-family="Liberation Serif" font-weight="bold" font-size="16">a</text>
<line x1="34" y1="24.3" x2="52" y2="24.3" stroke="#000" stroke-width="2.7"/>
<line x1="83" y1="110.5" x2="101" y2="110.5" stroke="#000" stroke-width="2.7"/>
<line x1="131" y1="112.6" x2="149" y2="112.6" stroke="#000" stroke-width="2.7"/>
<line x1="179.5" y1="106.7" x2="197" y2="106.7" stroke="#000" stroke-width="2.7"/>
<line x1="228" y1="159.7" x2="245.3" y2="159.7" stroke="#000" stroke-width="2.7"/>
<line x1="276.2" y1="180.6" x2="293.6" y2="180.6" stroke="#000" stroke-width="2.7"/>
<line x1="324.5" y1="197" x2="342.8" y2="197" stroke="#000" stroke-width="2.7"/>
<line x1="373.5" y1="205.3" x2="390.7" y2="205.3" stroke="#000" stroke-width="2.7"/>
<line x1="421.3" y1="201.7" x2="439.2" y2="201.7" stroke="#000" stroke-width="2.7"/>
<line x1="469.8" y1="237.8" x2="487.2" y2="237.8" stroke="#000" stroke-width="2.7"/>
<line x1="517.8" y1="241" x2="536.2" y2="241" stroke="#000" stroke-width="2.7"/>
<line x1="567" y1="235" x2="584" y2="235" stroke="#000" stroke-width="2.7"/>
<line x1="615.2" y1="291.2" x2="633.6" y2="291.2" stroke="#000" stroke-width="2.7"/>
<line x1="664" y1="309.2" x2="681.5" y2="309.2" stroke="#000" stroke-width="2.7"/>
<line x1="52" y1="24.3" x2="83" y2="110.5" stroke="#000" stroke-width="1.3"/>
<line x1="101" y1="110.5" x2="131" y2="112.6" stroke="#000" stroke-width="1.3"/>
<line x1="245.3" y1="159.7" x2="276.2" y2="180.6" stroke="#000" stroke-width="1.3"/>
<line x1="293.6" y1="180.6" x2="324.5" y2="197" stroke="#000" stroke-width="1.3"/>
<line x1="390.7" y1="205.3" x2="421.3" y2="201.7" stroke="#000" stroke-width="1.3"/>
<line x1="487.2" y1="237.8" x2="517.8" y2="241" stroke="#000" stroke-width="1.3"/>
<line x1="633.6" y1="291.2" x2="664" y2="309.2" stroke="#000" stroke-width="1.3"/>
<path d="M149,112.6 C154.50,104.83 158.42,90.4 164.7,90.4 C170.62,90.4 174.32,101.00 179.5,106.7" fill="none" stroke="#000" stroke-width="1.3"/>
<path d="M197,106.7 C200.92,103.13 203.16,96.5 208.2,96.5 C214.14,96.5 219.09,131.26 228,159.7" fill="none" stroke="#000" stroke-width="1.3"/>
<path d="M342.8,197 C347.38,195.46 350.00,192.6 355.9,192.6 C363.82,192.6 367.34,200.86 373.5,205.3" fill="none" stroke="#000" stroke-width="1.3"/>
<path d="M439.2,201.7 C444.76,191.76 448.74,173.3 455.1,173.3 C460.25,173.3 463.19,208.78 469.8,237.8" fill="none" stroke="#000" stroke-width="1.3"/>
<path d="M536.2,241 C542.96,235.72 546.82,225.9 555.5,225.9 C560.67,225.9 562.98,231.81 567,235" fill="none" stroke="#000" stroke-width="1.3"/>
<path d="M584,235 C587.95,231.92 590.21,226.2 595.3,226.2 C601.27,226.2 606.25,261.95 615.2,291.2" fill="none" stroke="#000" stroke-width="1.3"/>
<path d="M103.1,99.4 L113.4,111.3 L129.1,102.3" fill="none" stroke="#000" stroke-width="1.3"/>
<path d="M255.5,161.6 L261.3,170.4 L273.7,168.9" fill="none" stroke="#000" stroke-width="1.3"/>
<path d="M306,178 L308.5,188.2 L320.9,186.2" fill="none" stroke="#000" stroke-width="1.3"/>
<path d="M393.8,198.7 L405.2,203.5 L414.3,198.7" fill="none" stroke="#000" stroke-width="1.3"/>
<path d="M492.4,233.4 L504.1,239.6 L514.3,234.8" fill="none" stroke="#000" stroke-width="1.3"/>
<path d="M638.8,289.3 L643.1,297 L657.3,294.3" fill="none" stroke="#000" stroke-width="1.3"/>
<text x="40.6" y="40.3" font-size="11">*</text>
<text x="69.0" y="58.9" font-size="10.5" text-anchor="start" fill="#000" >HMF</text>
<text x="97.3" y="97.2" font-size="10.5">OH<tspan font-size="6.5" dy="-5.1">-</tspan></text>
<text x="129.7" y="100.6" font-size="10.5">e<tspan font-size="6.5" dy="-5.1">-</tspan></text>
<text x="149.6" y="77" font-size="10.5" fill="#000">TS1<tspan font-size="6.8" dy="3.1">Pd</tspan></text>
<text x="153.0" y="88.5" font-size="10.5" text-anchor="start" fill="#000" >0.42</text>
<text x="194.8" y="80" font-size="10.5" fill="#000">TS2<tspan font-size="6.8" dy="3.1">Pd</tspan></text>
<text x="196.0" y="92.4" font-size="10.5" text-anchor="start" fill="#000" >0.22</text>
<text x="247.4" y="159.7" font-size="10.5">OH<tspan font-size="6.5" dy="-5.1">-</tspan></text>
<text x="267.9" y="164.2" font-size="10.5">H<tspan font-size="6.5" dy="2.5">2</tspan><tspan dy="-2.5">O+e</tspan><tspan font-size="6.5" dy="-5.1">-</tspan></text>
<text x="298.2" y="175.5" font-size="10.5">OH<tspan font-size="6.5" dy="-5.1">-</tspan></text>
<text x="321.6" y="185.8" font-size="10.5">e<tspan font-size="6.5" dy="-5.1">-</tspan></text>
<text x="342" y="176.3" font-size="10.5" fill="#000">TS3<tspan font-size="6.8" dy="3.1">Pd</tspan></text>
<text x="346.9" y="189.4" font-size="10.5" text-anchor="start" fill="#000" >0.02</text>
<text x="384.5" y="195.2" font-size="10.5">OH<tspan font-size="6.5" dy="-5.1">-</tspan></text>
<text x="412.6" y="194" font-size="10.5">e<tspan font-size="6.5" dy="-5.1">-</tspan></text>
<text x="441.1" y="158" font-size="10.5" fill="#000">TS4<tspan font-size="6.8" dy="3.1">Pd</tspan></text>
<text x="445.3" y="170.7" font-size="10.5" text-anchor="start" fill="#000" >0.55</text>
<text x="487.5" y="230.8" font-size="10.5">OH<tspan font-size="6.5" dy="-5.1">-</tspan></text>
<text x="513.1" y="230.8" font-size="10.5">e<tspan font-size="6.5" dy="-5.1">-</tspan></text>
<text x="543.7" y="209.8" font-size="10.5" fill="#000">TS5<tspan font-size="6.8" dy="3.1">Pd</tspan></text>
<text x="546.4" y="222.0" font-size="10.5" text-anchor="start" fill="#000" >0.32</text>
<text x="582" y="206.7" font-size="10.5" fill="#000">TS6<tspan font-size="6.8" dy="3.1">Pd</tspan></text>
<text x="585.1" y="220.2" font-size="10.5" text-anchor="start" fill="#000" >0.29</text>
<text x="630.8" y="284.1" font-size="10.5">OH<tspan font-size="6.5" dy="-5.1">-</tspan></text>
<text x="650.2" y="292.4" font-size="10.5">H<tspan font-size="6.5" dy="2.5">2</tspan><tspan dy="-2.5">O+e</tspan><tspan font-size="6.5" dy="-5.1">-</tspan></text>
<text transform="matrix(0.2924,-0.9563,1.1716,0.2597,86.5,144.70000000000002)" font-size="10.5" text-anchor="start" stroke="#000" stroke-width="0.08">HMF<tspan font-size="7.5" dy="-3">*</tspan></text>
<text transform="matrix(0.2924,-0.9563,1.1716,0.2597,129.2,170.10000000000002)" font-size="10.5" text-anchor="start" stroke="#000" stroke-width="0.08">HMF<tspan font-size="7.5" dy="-3">*</tspan><tspan dy="3">+OH</tspan><tspan font-size="7.5" dy="-3">*</tspan></text>
<text transform="matrix(0.2924,-0.9563,1.1716,0.2597,225.2,227.10000000000002)" font-size="10.5" text-anchor="start" stroke="#000" stroke-width="0.08">HMFCA<tspan font-size="7.5" dy="-3">*</tspan><tspan dy="3">+H</tspan><tspan font-size="7.5" dy="-3">*</tspan></text>
<text transform="matrix(0.2924,-0.9563,1.1716,0.2597,280.2,227.0)" font-size="10.5" text-anchor="start" stroke="#000" stroke-width="0.08">HMFCA<tspan font-size="7.5" dy="-3">*</tspan></text>
<text transform="matrix(0.2924,-0.9563,1.1716,0.2597,322.7,272.0)" font-size="10.5" text-anchor="start" stroke="#000" stroke-width="0.08">HMFCA<tspan font-size="7.5" dy="-3">*</tspan><tspan dy="3">+OH</tspan><tspan font-size="7.5" dy="-3">*</tspan></text>
<text transform="matrix(0.2924,-0.9563,1.1716,0.2597,463.2,309.3)" font-size="10.5" text-anchor="start" stroke="#000" stroke-width="0.08">FFCA<tspan font-size="7.5" dy="-3">*</tspan><tspan dy="3">+H</tspan><tspan font-size="7" dy="2.5">2</tspan><tspan dy="-2.5">O(</tspan><tspan font-style="italic">l</tspan>)</text>
<text transform="matrix(0.2924,-0.9563,1.1716,0.2597,523.2,304.2)" font-size="10.5" text-anchor="start" stroke="#000" stroke-width="0.08">FFCA<tspan font-size="7.5" dy="-3">*</tspan><tspan dy="3">+OH</tspan><tspan font-size="7.5" dy="-3">*</tspan></text>
<text transform="matrix(0.2924,-0.9563,1.1716,0.2597,613.2,349.0)" font-size="10.5" text-anchor="start" stroke="#000" stroke-width="0.08">FDCA<tspan font-size="7.5" dy="-3">*</tspan><tspan dy="3">+H</tspan><tspan font-size="7.5" dy="-3">*</tspan></text>
<text transform="matrix(0.2924,-0.9563,1.1716,0.2597,669.2,347.1)" font-size="10.5" text-anchor="start" stroke="#000" stroke-width="0.08">FDCA<tspan font-size="7.5" dy="-3">*</tspan></text>
<g transform="matrix(0.2164,-0.9763,1.1716,0.2597,184.5,181.3)" font-size="10.4" fill="#1a1a1a"><g stroke="#1a1a1a" stroke-width="0.9" stroke-linecap="round"><line x1="3.24" y1="-8.65" x2="10.46" y2="-3.40"/><line x1="-3.24" y1="-8.65" x2="-10.46" y2="-3.40"/><line x1="10.46" y1="-3.40" x2="6.47" y2="8.90"/><line x1="6.47" y1="8.90" x2="-6.47" y2="8.90"/><line x1="-6.47" y1="8.90" x2="-10.46" y2="-3.40"/><line x1="7.96" y1="-2.17" x2="5.16" y2="6.44"/><line x1="-5.16" y1="6.44" x2="-7.96" y2="-2.17"/><line x1="10.46" y1="-3.40" x2="18.55" y2="-6.03"/><line x1="-10.46" y1="-3.40" x2="-18.55" y2="-6.03"/></g><text x="0.00" y="-7.40" text-anchor="middle">O</text><text x="19.05" y="-2.43">CH(OH)O<tspan font-size="8.5" dy="-2.8">*</tspan></text><text x="-20.05" y="-6.43" text-anchor="end">HOH<tspan font-size="7.5" dy="2.6">2</tspan><tspan dy="-2.6">C</tspan></text></g>
<g transform="matrix(0.2164,-0.9763,1.1716,0.2597,369,300.7)" font-size="11" fill="#1a1a1a"><g stroke="#1a1a1a" stroke-width="0.9" stroke-linecap="round"><line x1="3.24" y1="-8.65" x2="10.46" y2="-3.40"/><line x1="-3.24" y1="-8.65" x2="-10.46" y2="-3.40"/><line x1="10.46" y1="-3.40" x2="6.47" y2="8.90"/><line x1="6.47" y1="8.90" x2="-6.47" y2="8.90"/><line x1="-6.47" y1="8.90" x2="-10.46" y2="-3.40"/><line x1="7.96" y1="-2.17" x2="5.16" y2="6.44"/><line x1="-5.16" y1="6.44" x2="-7.96" y2="-2.17"/><line x1="10.46" y1="-3.40" x2="18.55" y2="-6.03"/><line x1="-10.46" y1="-3.40" x2="-18.55" y2="-6.03"/></g><text x="0.00" y="-7.40" text-anchor="middle">O</text><text x="19.05" y="-2.43">CH<tspan font-size="7.5" dy="2.6">2</tspan><tspan dy="-2.6">O</tspan><tspan font-size="8.5" dy="-2.8">*</tspan><tspan dy="2.8"> + H</tspan><tspan font-size="7.5" dy="2.6">2</tspan><tspan dy="-2.6">O(</tspan><tspan font-style="italic">l</tspan>)</text><text x="-19.05" y="-2.43" text-anchor="end">HOOC</text></g>
<g transform="matrix(0.2164,-0.9763,1.1716,0.2597,418.9,290.1)" font-size="11" fill="#1a1a1a"><g stroke="#1a1a1a" stroke-width="0.9" stroke-linecap="round"><line x1="3.24" y1="-8.65" x2="10.46" y2="-3.40"/><line x1="-3.24" y1="-8.65" x2="-10.46" y2="-3.40"/><line x1="10.46" y1="-3.40" x2="6.47" y2="8.90"/><line x1="6.47" y1="8.90" x2="-6.47" y2="8.90"/><line x1="-6.47" y1="8.90" x2="-10.46" y2="-3.40"/><line x1="7.96" y1="-2.17" x2="5.16" y2="6.44"/><line x1="-5.16" y1="6.44" x2="-7.96" y2="-2.17"/><line x1="10.46" y1="-3.40" x2="18.55" y2="-6.03"/><line x1="-10.46" y1="-3.40" x2="-18.55" y2="-6.03"/></g><text x="0.00" y="-7.40" text-anchor="middle">O</text><text x="19.05" y="-2.43">CH<tspan font-size="7.5" dy="2.6">2</tspan><tspan dy="-2.6">O</tspan><tspan font-size="8.5" dy="-2.8">*</tspan><tspan dy="2.8"> + OH</tspan><tspan font-size="8.5" dy="-2.8">*</tspan></text><text x="-19.05" y="-2.43" text-anchor="end">HOOC</text></g>
<g transform="matrix(0.2164,-0.9763,1.1716,0.2597,570,305)" font-size="10.4" fill="#1a1a1a"><g stroke="#1a1a1a" stroke-width="0.9" stroke-linecap="round"><line x1="3.24" y1="-8.65" x2="10.46" y2="-3.40"/><line x1="-3.24" y1="-8.65" x2="-10.46" y2="-3.40"/><line x1="10.46" y1="-3.40" x2="6.47" y2="8.90"/><line x1="6.47" y1="8.90" x2="-6.47" y2="8.90"/><line x1="-6.47" y1="8.90" x2="-10.46" y2="-3.40"/><line x1="7.96" y1="-2.17" x2="5.16" y2="6.44"/><line x1="-5.16" y1="6.44" x2="-7.96" y2="-2.17"/><line x1="10.46" y1="-3.40" x2="18.55" y2="-6.03"/><line x1="-10.46" y1="-3.40" x2="-18.55" y2="-6.03"/></g><text x="0.00" y="-7.40" text-anchor="middle">O</text><text x="19.05" y="-2.43">CH(OH)O<tspan font-size="8.5" dy="-2.8">*</tspan></text><text x="-19.55" y="-4.13" text-anchor="end">HOOC</text></g>
<path d="M41.4,392.9 L206.4,392.9" stroke="#999" stroke-width="1.5" fill="none"/>
<path d="M41.4,392.9 L41.4,557.4" stroke="#7a7a7a" stroke-width="1.3" fill="none"/>
<path d="M35.9,557.4 L206.4,557.4" stroke="#555" stroke-width="1.1" fill="none"/>
<path d="M206.4,392.9 L206.4,557.4" stroke="#f26a6a" stroke-width="1.2" fill="none"/>
<line x1="35.8" y1="557.4" x2="41.4" y2="557.4" stroke="#444" stroke-width="1"/>
<text x="32.6" y="561.4" font-size="11.4" text-anchor="end" fill="#000" >0</text>
<line x1="35.8" y1="524.8" x2="41.4" y2="524.8" stroke="#444" stroke-width="1"/>
<text x="32.6" y="528.8" font-size="11.4" text-anchor="end" fill="#000" >20</text>
<line x1="35.8" y1="492.2" x2="41.4" y2="492.2" stroke="#444" stroke-width="1"/>
<text x="32.6" y="496.2" font-size="11.4" text-anchor="end" fill="#000" >40</text>
<line x1="35.8" y1="459.6" x2="41.4" y2="459.6" stroke="#444" stroke-width="1"/>
<text x="32.6" y="463.6" font-size="11.4" text-anchor="end" fill="#000" >60</text>
<line x1="35.8" y1="427.0" x2="41.4" y2="427.0" stroke="#444" stroke-width="1"/>
<text x="32.6" y="431.0" font-size="11.4" text-anchor="end" fill="#000" >80</text>
<line x1="35.8" y1="394.4" x2="41.4" y2="394.4" stroke="#444" stroke-width="1"/>
<text x="32.6" y="398.4" font-size="11.4" text-anchor="end" fill="#000" >100</text>
<line x1="38.2" y1="541.1" x2="41.4" y2="541.1" stroke="#6a6a6a" stroke-width="1"/>
<line x1="38.2" y1="508.5" x2="41.4" y2="508.5" stroke="#6a6a6a" stroke-width="1"/>
<line x1="38.2" y1="475.9" x2="41.4" y2="475.9" stroke="#6a6a6a" stroke-width="1"/>
<line x1="38.2" y1="443.3" x2="41.4" y2="443.3" stroke="#6a6a6a" stroke-width="1"/>
<line x1="38.2" y1="410.7" x2="41.4" y2="410.7" stroke="#6a6a6a" stroke-width="1"/>
<line x1="206.4" y1="557.3" x2="211.8" y2="557.3" stroke="#f26a6a" stroke-width="1"/>
<text x="215.3" y="561.3" font-size="11.5" text-anchor="start" fill="#ee3a44" >0</text>
<line x1="206.4" y1="517.0" x2="211.8" y2="517.0" stroke="#f26a6a" stroke-width="1"/>
<text x="215.3" y="521.0" font-size="11.5" text-anchor="start" fill="#ee3a44" >1</text>
<line x1="206.4" y1="476.7" x2="211.8" y2="476.7" stroke="#f26a6a" stroke-width="1"/>
<text x="215.3" y="480.7" font-size="11.5" text-anchor="start" fill="#ee3a44" >2</text>
<line x1="206.4" y1="436.4" x2="211.8" y2="436.4" stroke="#f26a6a" stroke-width="1"/>
<text x="215.3" y="440.4" font-size="11.5" text-anchor="start" fill="#ee3a44" >3</text>
<line x1="206.4" y1="396.1" x2="211.8" y2="396.1" stroke="#f26a6a" stroke-width="1"/>
<text x="215.3" y="400.1" font-size="11.5" text-anchor="start" fill="#ee3a44" >4</text>
<line x1="206.4" y1="537.1" x2="209.2" y2="537.1" stroke="#f26a6a" stroke-width="1"/>
<line x1="206.4" y1="496.8" x2="209.2" y2="496.8" stroke="#f26a6a" stroke-width="1"/>
<line x1="206.4" y1="456.5" x2="209.2" y2="456.5" stroke="#f26a6a" stroke-width="1"/>
<line x1="206.4" y1="416.2" x2="209.2" y2="416.2" stroke="#f26a6a" stroke-width="1"/>
<line x1="55.1" y1="557.4" x2="55.1" y2="562.5" stroke="#666" stroke-width="1"/>
<text x="55.1" y="575.3" font-size="11.4" text-anchor="middle" fill="#000" >0.4</text>
<line x1="82.5" y1="557.4" x2="82.5" y2="562.5" stroke="#666" stroke-width="1"/>
<text x="82.5" y="575.3" font-size="11.4" text-anchor="middle" fill="#000" >0.5</text>
<line x1="109.9" y1="557.4" x2="109.9" y2="562.5" stroke="#666" stroke-width="1"/>
<text x="109.9" y="575.3" font-size="11.4" text-anchor="middle" fill="#000" >0.6</text>
<line x1="137.3" y1="557.4" x2="137.3" y2="562.5" stroke="#666" stroke-width="1"/>
<text x="137.3" y="575.3" font-size="11.4" text-anchor="middle" fill="#000" >0.7</text>
<line x1="164.7" y1="557.4" x2="164.7" y2="562.5" stroke="#666" stroke-width="1"/>
<text x="164.7" y="575.3" font-size="11.4" text-anchor="middle" fill="#000" >0.8</text>
<line x1="192.1" y1="557.4" x2="192.1" y2="562.5" stroke="#666" stroke-width="1"/>
<text x="192.1" y="575.3" font-size="11.4" text-anchor="middle" fill="#000" >0.9</text>
<line x1="41.4" y1="557.4" x2="41.4" y2="560.5" stroke="#666" stroke-width="1"/>
<line x1="68.8" y1="557.4" x2="68.8" y2="560.5" stroke="#666" stroke-width="1"/>
<line x1="96.2" y1="557.4" x2="96.2" y2="560.5" stroke="#666" stroke-width="1"/>
<line x1="123.6" y1="557.4" x2="123.6" y2="560.5" stroke="#666" stroke-width="1"/>
<line x1="151.0" y1="557.4" x2="151.0" y2="560.5" stroke="#666" stroke-width="1"/>
<line x1="178.4" y1="557.4" x2="178.4" y2="560.5" stroke="#666" stroke-width="1"/>
<text x="126.5" y="589.2" font-size="11.5" text-anchor="middle" fill="#000" >E - iR (V vs. RHE)</text>
<text transform="translate(10.1,477.25) rotate(-90)" font-size="11.5" text-anchor="middle">Faradaic Efficiency (%)</text>
<text transform="translate(236.6,477.75) rotate(-90)" font-size="11.46" text-anchor="middle" fill="#ff0000">Charge consumption rate (C/h)</text>
<text x="-0.3" y="390.5" font-family="Liberation Serif" font-weight="bold" font-size="15.5">b</text>
<path d="M54.80,470.30 C59.45,469.47 73.50,469.38 82.70,465.30 C91.90,461.22 98.53,452.77 110.00,445.80 C121.47,438.83 137.77,421.55 151.50,423.50 C165.23,425.45 185.58,451.83 192.40,457.50" fill="none" stroke="#000" stroke-width="2"/>
<path d="M54.70,521.00 C59.28,516.77 73.02,504.08 82.20,495.60 C91.38,487.12 98.25,476.90 109.80,470.10 C121.35,463.30 137.73,453.50 151.50,454.80 C165.27,456.10 185.58,474.05 192.40,477.90" fill="none" stroke="#ee3a44" stroke-width="2.2"/>
<circle cx="54.80" cy="470.30" r="3.7" fill="url(#gBlack)"/>
<circle cx="82.70" cy="465.30" r="3.7" fill="url(#gBlack)"/>
<circle cx="110.00" cy="445.80" r="3.7" fill="url(#gBlack)"/>
<circle cx="151.50" cy="423.50" r="3.7" fill="url(#gBlack)"/>
<circle cx="192.40" cy="457.50" r="3.7" fill="url(#gBlack)"/>
<circle cx="54.70" cy="521.00" r="3.7" fill="url(#gRed)"/>
<circle cx="82.20" cy="495.60" r="3.7" fill="url(#gRed)"/>
<circle cx="109.80" cy="470.10" r="3.7" fill="url(#gRed)"/>
<circle cx="151.50" cy="454.80" r="3.7" fill="url(#gRed)"/>
<circle cx="192.40" cy="477.90" r="3.7" fill="url(#gRed)"/>
<path d="M292.5,393.2 L457.4,393.2" stroke="#999" stroke-width="1.5" fill="none"/>
<path d="M292.5,393.2 L292.5,561.5" stroke="#7a7a7a" stroke-width="1.3" fill="none"/>
<path d="M292.5,558.5 L457.4,558.5" stroke="#555" stroke-width="1.1" fill="none"/>
<path d="M457.4,393.2 L457.4,558.5" stroke="#ff1fff" stroke-width="1.2" fill="none"/>
<line x1="287.3" y1="555.5" x2="292.5" y2="555.5" stroke="#444" stroke-width="1"/>
<text x="284.4" y="559.5" font-size="11.4" text-anchor="end" fill="#000" >0</text>
<line x1="457.4" y1="558.5" x2="462.7" y2="558.5" stroke="#ff1fff" stroke-width="1"/>
<text x="465.6" y="562.5" font-size="11.5" text-anchor="start" fill="#ff1fff" >0</text>
<line x1="287.3" y1="523.3" x2="292.5" y2="523.3" stroke="#444" stroke-width="1"/>
<text x="284.4" y="527.3" font-size="11.4" text-anchor="end" fill="#000" >20</text>
<line x1="457.4" y1="525.7" x2="462.7" y2="525.7" stroke="#ff1fff" stroke-width="1"/>
<text x="465.6" y="529.7" font-size="11.5" text-anchor="start" fill="#ff1fff" >20</text>
<line x1="287.3" y1="491.1" x2="292.5" y2="491.1" stroke="#444" stroke-width="1"/>
<text x="284.4" y="495.1" font-size="11.4" text-anchor="end" fill="#000" >40</text>
<line x1="457.4" y1="492.9" x2="462.7" y2="492.9" stroke="#ff1fff" stroke-width="1"/>
<text x="465.6" y="496.9" font-size="11.5" text-anchor="start" fill="#ff1fff" >40</text>
<line x1="287.3" y1="458.9" x2="292.5" y2="458.9" stroke="#444" stroke-width="1"/>
<text x="284.4" y="462.9" font-size="11.4" text-anchor="end" fill="#000" >60</text>
<line x1="457.4" y1="460.1" x2="462.7" y2="460.1" stroke="#ff1fff" stroke-width="1"/>
<text x="465.6" y="464.1" font-size="11.5" text-anchor="start" fill="#ff1fff" >60</text>
<line x1="287.3" y1="426.7" x2="292.5" y2="426.7" stroke="#444" stroke-width="1"/>
<text x="284.4" y="430.7" font-size="11.4" text-anchor="end" fill="#000" >80</text>
<line x1="457.4" y1="427.3" x2="462.7" y2="427.3" stroke="#ff1fff" stroke-width="1"/>
<text x="465.6" y="431.3" font-size="11.5" text-anchor="start" fill="#ff1fff" >80</text>
<line x1="287.3" y1="394.5" x2="292.5" y2="394.5" stroke="#444" stroke-width="1"/>
<text x="284.4" y="398.5" font-size="11.4" text-anchor="end" fill="#000" >100</text>
<line x1="457.4" y1="394.5" x2="462.7" y2="394.5" stroke="#ff1fff" stroke-width="1"/>
<text x="465.6" y="398.5" font-size="11.5" text-anchor="start" fill="#ff1fff" >100</text>
<line x1="289.9" y1="539.4" x2="292.5" y2="539.4" stroke="#444" stroke-width="1"/>
<line x1="457.4" y1="542.1" x2="459.9" y2="542.1" stroke="#ff1fff" stroke-width="1"/>
<line x1="289.9" y1="507.2" x2="292.5" y2="507.2" stroke="#444" stroke-width="1"/>
<line x1="457.4" y1="509.3" x2="459.9" y2="509.3" stroke="#ff1fff" stroke-width="1"/>
<line x1="289.9" y1="475.0" x2="292.5" y2="475.0" stroke="#444" stroke-width="1"/>
<line x1="457.4" y1="476.5" x2="459.9" y2="476.5" stroke="#ff1fff" stroke-width="1"/>
<line x1="289.9" y1="442.8" x2="292.5" y2="442.8" stroke="#444" stroke-width="1"/>
<line x1="457.4" y1="443.7" x2="459.9" y2="443.7" stroke="#ff1fff" stroke-width="1"/>
<line x1="289.9" y1="410.6" x2="292.5" y2="410.6" stroke="#444" stroke-width="1"/>
<line x1="457.4" y1="410.9" x2="459.9" y2="410.9" stroke="#ff1fff" stroke-width="1"/>
<line x1="304.4" y1="558.5" x2="304.4" y2="563.7" stroke="#555" stroke-width="1"/>
<text x="304.4" y="575.3" font-size="11.4" text-anchor="middle" fill="#000" >0.3</text>
<line x1="327.9" y1="558.5" x2="327.9" y2="563.7" stroke="#555" stroke-width="1"/>
<text x="327.9" y="575.3" font-size="11.4" text-anchor="middle" fill="#000" >0.4</text>
<line x1="351.4" y1="558.5" x2="351.4" y2="563.7" stroke="#555" stroke-width="1"/>
<text x="351.4" y="575.3" font-size="11.4" text-anchor="middle" fill="#000" >0.5</text>
<line x1="375.0" y1="558.5" x2="375.0" y2="563.7" stroke="#555" stroke-width="1"/>
<text x="375.0" y="575.3" font-size="11.4" text-anchor="middle" fill="#000" >0.6</text>
<line x1="398.5" y1="558.5" x2="398.5" y2="563.7" stroke="#555" stroke-width="1"/>
<text x="398.5" y="575.3" font-size="11.4" text-anchor="middle" fill="#000" >0.7</text>
<line x1="422.0" y1="558.5" x2="422.0" y2="563.7" stroke="#555" stroke-width="1"/>
<text x="422.0" y="575.3" font-size="11.4" text-anchor="middle" fill="#000" >0.8</text>
<line x1="445.5" y1="558.5" x2="445.5" y2="563.7" stroke="#555" stroke-width="1"/>
<text x="445.5" y="575.3" font-size="11.4" text-anchor="middle" fill="#000" >0.9</text>
<line x1="316.2" y1="558.5" x2="316.2" y2="561.4" stroke="#555" stroke-width="1"/>
<line x1="339.7" y1="558.5" x2="339.7" y2="561.4" stroke="#555" stroke-width="1"/>
<line x1="363.2" y1="558.5" x2="363.2" y2="561.4" stroke="#555" stroke-width="1"/>
<line x1="386.7" y1="558.5" x2="386.7" y2="561.4" stroke="#555" stroke-width="1"/>
<line x1="410.2" y1="558.5" x2="410.2" y2="561.4" stroke="#555" stroke-width="1"/>
<line x1="433.8" y1="558.5" x2="433.8" y2="561.4" stroke="#555" stroke-width="1"/>
<text x="375.5" y="589.2" font-size="11.5" text-anchor="middle" fill="#000" >E - iR (V vs. RHE)</text>
<text transform="translate(262.9,476.5) rotate(-90)" font-size="11.56" text-anchor="middle">Selectivity (%)</text>
<text transform="translate(490.8,476.4) rotate(-90)" font-size="12" text-anchor="middle" fill="#ff1fff">FDCA yield (%)</text>
<text x="246.6" y="390.5" font-family="Liberation Serif" font-weight="bold" font-size="16">c</text>
<path d="M303.90,506.80 C304.82,505.23 307.30,500.88 309.40,497.40 C311.50,493.92 314.12,489.20 316.50,485.90 C318.88,482.60 321.30,479.70 323.70,477.60 C326.10,475.50 328.50,474.25 330.90,473.30 C333.30,472.35 335.70,472.13 338.10,471.90 C340.50,471.67 342.92,471.90 345.30,471.90 C347.68,471.90 350.02,472.18 352.40,471.90 C354.78,471.62 357.20,470.67 359.60,470.20 C362.00,469.73 364.40,469.23 366.80,469.10 C369.20,468.97 371.73,469.08 374.00,469.40 C376.27,469.72 377.92,469.90 380.40,471.00 C382.88,472.10 386.08,473.90 388.90,476.00 C391.72,478.10 394.48,480.92 397.30,483.60 C400.12,486.28 403.68,489.95 405.80,492.10 C407.92,494.25 407.88,493.68 410.00,496.50 C412.12,499.32 415.68,504.95 418.50,509.00 C421.32,513.05 424.10,517.13 426.90,520.80 C429.70,524.47 432.28,527.28 435.30,531.00 C438.32,534.72 443.38,541.08 445.00,543.10" fill="none" stroke="#ff0000" stroke-width="2"/>
<path d="M303.9,462.7 L323.7,478 L323.70,478.00 C324.30,478.67 324.90,480.63 327.30,482.00 C329.70,483.37 335.10,485.07 338.10,486.20 C341.10,487.33 342.92,488.12 345.30,488.80 C347.68,489.48 350.02,489.93 352.40,490.30 C354.78,490.67 357.20,490.97 359.60,491.00 C362.00,491.03 364.40,490.98 366.80,490.50 C369.20,490.02 371.73,489.38 374.00,488.10 C376.27,486.82 377.92,484.95 380.40,482.80 C382.88,480.65 386.08,477.87 388.90,475.20 C391.72,472.53 394.63,469.33 397.30,466.80 C399.97,464.27 402.75,462.15 404.90,460.00 C407.05,457.85 409.32,454.92 410.20,453.90 L445.4,406.5" fill="none" stroke="#0a800a" stroke-width="2"/>
<path d="M304.00,536.20 C305.07,537.75 308.30,543.03 310.40,545.50 C312.50,547.97 314.53,549.62 316.60,551.00 C318.67,552.38 320.93,553.27 322.80,553.80 C324.67,554.33 326.15,554.67 327.80,554.20 C329.45,553.73 330.83,552.55 332.70,551.00 C334.57,549.45 336.93,546.75 339.00,544.90 C341.07,543.05 343.05,540.78 345.10,539.90 C347.15,539.02 348.82,538.98 351.30,539.60 C353.78,540.22 357.30,542.42 360.00,543.60 C362.70,544.78 365.02,545.87 367.50,546.70 C369.98,547.53 372.32,547.88 374.90,548.60 C377.48,549.32 379.65,550.13 383.00,551.00 C386.35,551.87 390.50,553.08 395.00,553.80 C399.50,554.52 401.67,555.05 410.00,555.30 C418.33,555.55 439.17,555.30 445.00,555.30" fill="none" stroke="#ff8000" stroke-width="2"/>
<path d="M304.00,549.80 C305.07,549.08 308.30,546.85 310.40,545.50 C312.50,544.15 314.53,542.73 316.60,541.70 C318.67,540.67 320.93,539.92 322.80,539.30 C324.67,538.68 325.73,538.32 327.80,538.00 C329.87,537.68 332.93,537.50 335.20,537.40 C337.47,537.30 339.33,537.33 341.40,537.40 C343.47,537.47 345.95,537.73 347.60,537.80 C349.25,537.87 349.85,538.38 351.30,537.80 C352.75,537.22 354.85,535.60 356.30,534.30 C357.75,533.00 358.55,531.55 360.00,530.00 C361.45,528.45 362.58,527.52 365.00,525.00 C367.42,522.48 371.93,517.00 374.50,514.90 C377.07,512.80 378.00,513.17 380.40,512.40 C382.80,511.63 386.08,510.45 388.90,510.30 C391.72,510.15 393.78,510.45 397.30,511.50 C400.82,512.55 405.77,514.35 410.00,516.60 C414.23,518.85 419.18,522.33 422.70,525.00 C426.22,527.67 428.28,529.63 431.10,532.60 C433.92,535.57 437.28,539.73 439.60,542.80 C441.92,545.87 444.10,549.63 445.00,551.00" fill="none" stroke="#ff1fff" stroke-width="2"/>
<path d="M304,555.4 L445,555.4" fill="none" stroke="#0000ff" stroke-width="2.4"/>
<rect x="300.60" y="459.40" width="6.6" height="6.6" fill="#0a800a"/>
<rect x="324.00" y="479.50" width="6.6" height="6.6" fill="#0a800a"/>
<rect x="348.00" y="487.20" width="6.6" height="6.6" fill="#0a800a"/>
<rect x="371.40" y="489.80" width="6.6" height="6.6" fill="#0a800a"/>
<rect x="406.90" y="450.60" width="6.6" height="6.6" fill="#0a800a"/>
<rect x="442.10" y="403.20" width="6.6" height="6.6" fill="#0a800a"/>
<circle cx="304" cy="536.2" r="3.9" fill="#ff8000"/>
<circle cx="327.8" cy="555.3" r="3.9" fill="#ff8000"/>
<circle cx="351.3" cy="540.1" r="3.9" fill="#ff8000"/>
<circle cx="374.8" cy="549" r="3.9" fill="#ff8000"/>
<circle cx="410" cy="555.3" r="3.9" fill="#ff8000"/>
<circle cx="445" cy="555.3" r="3.9" fill="#ff8000"/>
<circle cx="304.4" cy="555.4" r="3.9" fill="#0000ff"/>
<circle cx="327.91999999999996" cy="555.4" r="3.9" fill="#0000ff"/>
<circle cx="351.44" cy="555.4" r="3.9" fill="#0000ff"/>
<circle cx="374.96" cy="555.4" r="3.9" fill="#0000ff"/>
<circle cx="410.24" cy="555.4" r="3.9" fill="#0000ff"/>
<circle cx="445.52" cy="555.4" r="3.9" fill="#0000ff"/>
<circle cx="303.9" cy="506.8" r="3.9" fill="#ff0000"/>
<circle cx="327.3" cy="468" r="3.9" fill="#ff0000"/>
<circle cx="351" cy="475.9" r="3.9" fill="#ff0000"/>
<circle cx="374.7" cy="463.3" r="3.9" fill="#ff0000"/>
<circle cx="410" cy="495.8" r="3.9" fill="#ff0000"/>
<circle cx="445" cy="543.1" r="3.9" fill="#ff0000"/>
<circle cx="304.00" cy="549.80" r="3.9" fill="url(#gMag)"/>
<circle cx="327.50" cy="538.10" r="3.9" fill="url(#gMag)"/>
<circle cx="351.10" cy="537.80" r="3.9" fill="url(#gMag)"/>
<circle cx="374.60" cy="514.70" r="3.9" fill="url(#gMag)"/>
<circle cx="410.00" cy="516.60" r="3.9" fill="url(#gMag)"/>
<circle cx="445.00" cy="551.00" r="3.9" fill="url(#gMag)"/>
<line x1="299.4" y1="402" x2="326.4" y2="402" stroke="#ff0000" stroke-width="2"/>
<circle cx="313" cy="402" r="3.9" fill="#ff0000"/>
<text x="329.6" y="406.1" font-size="11.4" text-anchor="start" fill="#000" >FDCA</text>
<line x1="299.4" y1="416.4" x2="326.4" y2="416.4" stroke="#0a800a" stroke-width="2"/>
<rect x="309.7" y="413.09999999999997" width="6.6" height="6.6" fill="#0a800a"/>
<text x="329.6" y="420.5" font-size="11.4" text-anchor="start" fill="#000" >HMFCA</text>
<line x1="299.4" y1="430.6" x2="326.4" y2="430.6" stroke="#ff8000" stroke-width="2"/>
<circle cx="313" cy="430.6" r="3.9" fill="#ff8000"/>
<text x="329.6" y="434.7" font-size="11.4" text-anchor="start" fill="#000" >FFCA</text>
<line x1="299.4" y1="445.1" x2="326.4" y2="445.1" stroke="#0000ff" stroke-width="2"/>
<circle cx="313" cy="445.1" r="3.9" fill="#0000ff"/>
<text x="329.6" y="449.2" font-size="11.4" text-anchor="start" fill="#000" >DFF</text>
<defs><clipPath id="clipd"><rect x="532.7" y="392.6" width="151.0999999999999" height="166.69999999999993"/></clipPath></defs>
<path d="M532.7,392.6 L683.8,392.6" stroke="#999" stroke-width="1.5" fill="none"/>
<path d="M683.8,392.6 L683.8,559.3" stroke="#555" stroke-width="1.1" fill="none"/>
<path d="M532.7,392.6 L532.7,559.3" stroke="#7a7a7a" stroke-width="1.3" fill="none"/>
<path d="M527.2,559.3 L683.8,559.3" stroke="#555" stroke-width="1.1" fill="none"/>
<line x1="527.2" y1="559.3" x2="532.7" y2="559.3" stroke="#444" stroke-width="1"/>
<text x="525.2" y="563.3" font-size="11.4" text-anchor="end" fill="#000" >0</text>
<line x1="527.2" y1="526.6" x2="532.7" y2="526.6" stroke="#444" stroke-width="1"/>
<text x="525.2" y="530.6" font-size="11.4" text-anchor="end" fill="#000" >2</text>
<line x1="527.2" y1="493.9" x2="532.7" y2="493.9" stroke="#444" stroke-width="1"/>
<text x="525.2" y="497.9" font-size="11.4" text-anchor="end" fill="#000" >4</text>
<line x1="527.2" y1="461.2" x2="532.7" y2="461.2" stroke="#444" stroke-width="1"/>
<text x="525.2" y="465.2" font-size="11.4" text-anchor="end" fill="#000" >6</text>
<line x1="527.2" y1="428.5" x2="532.7" y2="428.5" stroke="#444" stroke-width="1"/>
<text x="525.2" y="432.5" font-size="11.4" text-anchor="end" fill="#000" >8</text>
<line x1="527.2" y1="395.8" x2="532.7" y2="395.8" stroke="#444" stroke-width="1"/>
<text x="525.2" y="399.8" font-size="11.4" text-anchor="end" fill="#000" >10</text>
<line x1="529.6" y1="542.9" x2="532.7" y2="542.9" stroke="#444" stroke-width="1"/>
<line x1="529.6" y1="510.2" x2="532.7" y2="510.2" stroke="#444" stroke-width="1"/>
<line x1="529.6" y1="477.5" x2="532.7" y2="477.5" stroke="#444" stroke-width="1"/>
<line x1="529.6" y1="444.8" x2="532.7" y2="444.8" stroke="#444" stroke-width="1"/>
<line x1="529.6" y1="412.1" x2="532.7" y2="412.1" stroke="#444" stroke-width="1"/>
<line x1="535.3" y1="559.3" x2="535.3" y2="563.6" stroke="#555" stroke-width="1"/>
<text x="535.3" y="575.3" font-size="11.4" text-anchor="middle" fill="#000" >0.2</text>
<line x1="570.6" y1="559.3" x2="570.6" y2="563.6" stroke="#555" stroke-width="1"/>
<text x="570.6" y="575.3" font-size="11.4" text-anchor="middle" fill="#000" >0.3</text>
<line x1="605.9" y1="559.3" x2="605.9" y2="563.6" stroke="#555" stroke-width="1"/>
<text x="605.9" y="575.3" font-size="11.4" text-anchor="middle" fill="#000" >0.4</text>
<line x1="641.2" y1="559.3" x2="641.2" y2="563.6" stroke="#555" stroke-width="1"/>
<text x="641.2" y="575.3" font-size="11.4" text-anchor="middle" fill="#000" >0.5</text>
<line x1="676.5" y1="559.3" x2="676.5" y2="563.6" stroke="#555" stroke-width="1"/>
<text x="676.5" y="575.3" font-size="11.4" text-anchor="middle" fill="#000" >0.6</text>
<line x1="552.9" y1="559.3" x2="552.9" y2="561.5" stroke="#555" stroke-width="1"/>
<line x1="588.2" y1="559.3" x2="588.2" y2="561.5" stroke="#555" stroke-width="1"/>
<line x1="623.5" y1="559.3" x2="623.5" y2="561.5" stroke="#555" stroke-width="1"/>
<line x1="658.8" y1="559.3" x2="658.8" y2="561.5" stroke="#555" stroke-width="1"/>
<text x="604.8" y="589.2" font-size="11.5" text-anchor="middle" fill="#000" >E - iR (V vs. RHE)</text>
<text transform="translate(510.3,472.6) rotate(-90)" font-size="12.5" text-anchor="middle"><tspan font-style="italic">j</tspan> (mA/cm<tspan font-size="7" dy="-4">2</tspan><tspan dy="4">)</tspan></text>
<text x="497.2" y="390.3" font-family="Liberation Serif" font-weight="bold" font-size="15.5">d</text>
<g clip-path="url(#clipd)" fill="none" stroke-width="2">
<path d="M532.30,550.60 C544.42,550.55 579.78,551.47 605.00,550.30 C630.22,549.13 670.50,544.72 683.60,543.60" stroke="#000"/>
<path d="M532.30,554.00 C534.22,554.17 537.27,555.07 543.80,555.00 C550.33,554.93 563.42,554.07 571.50,553.60 C579.58,553.13 585.88,552.75 592.30,552.20 C598.72,551.65 604.17,550.98 610.00,550.30 C615.83,549.62 621.63,549.58 627.30,548.10 C632.97,546.62 638.80,544.37 644.00,541.40 C649.20,538.43 654.23,534.75 658.50,530.30 C662.77,525.85 666.27,521.02 669.60,514.70 C672.93,508.38 676.17,498.17 678.50,492.40 C680.83,486.63 682.75,482.15 683.60,480.10" stroke="#006400"/>
<path d="M532.30,554.00 C538.83,553.67 561.97,552.80 571.50,552.00 C581.03,551.20 584.42,550.25 589.50,549.20 C594.58,548.15 595.70,548.12 602.00,545.70 C608.30,543.28 620.30,538.38 627.30,534.70 C634.30,531.02 638.80,528.05 644.00,523.60 C649.20,519.15 654.23,514.32 658.50,508.00 C662.77,501.68 666.27,493.13 669.60,485.70 C672.93,478.27 676.17,468.97 678.50,463.40 C680.83,457.83 682.75,454.15 683.60,452.30" stroke="#ff8000"/>
<path d="M532.30,552.00 C534.22,551.82 539.57,551.25 543.80,550.90 C548.03,550.55 554.47,550.53 557.70,549.90 C560.93,549.27 560.90,548.02 563.20,547.10 C565.50,546.18 568.50,545.20 571.50,544.40 C574.50,543.60 578.43,543.47 581.20,542.30 C583.97,541.13 585.10,540.17 588.10,537.40 C591.10,534.63 595.55,529.62 599.20,525.70 C602.85,521.78 607.18,517.60 610.00,513.90 C612.82,510.20 613.22,510.05 616.10,503.50 C618.98,496.95 624.32,483.13 627.30,474.60 C630.28,466.07 631.58,459.73 634.00,452.30 C636.42,444.87 639.78,436.17 641.80,430.00 C643.82,423.83 644.67,421.55 646.10,415.30 C647.53,409.05 649.68,396.30 650.40,392.50" stroke="#ff79c8"/>
<path d="M552.80,558.90 C553.62,556.82 555.97,550.32 557.70,546.40 C559.43,542.48 561.13,540.23 563.20,535.40 C565.27,530.57 568.02,523.17 570.10,517.40 C572.18,511.63 573.67,507.03 575.70,500.80 C577.73,494.57 580.13,487.48 582.30,480.00 C584.47,472.52 586.50,463.58 588.70,455.90 C590.90,448.22 593.25,441.22 595.50,433.90 C597.75,426.58 599.95,418.90 602.20,412.00 C604.45,405.10 607.87,395.75 609.00,392.50" stroke="#0000ff"/>
</g>
<line x1="533.8" y1="400.1" x2="551" y2="400.1" stroke="#000" stroke-width="2"/>
<text x="556.4" y="403.7" font-size="10.8" text-anchor="start" fill="#000" >Blank</text>
<line x1="533.8" y1="413.5" x2="551" y2="413.5" stroke="#ff79c8" stroke-width="2"/>
<text x="556.4" y="417.1" font-size="10.8" text-anchor="start" fill="#000" >HMF</text>
<line x1="533.8" y1="427.3" x2="551" y2="427.3" stroke="#006400" stroke-width="2"/>
<text x="556.4" y="430.9" font-size="10.8" text-anchor="start" fill="#000" >HMFCA</text>
<line x1="533.8" y1="441.2" x2="551" y2="441.2" stroke="#ff8000" stroke-width="2"/>
<text x="556.4" y="444.8" font-size="10.8" text-anchor="start" fill="#000" >FFCA</text>
<line x1="533.8" y1="455" x2="551" y2="455" stroke="#0000ff" stroke-width="2"/>
<text x="556.4" y="458.6" font-size="10.8" text-anchor="start" fill="#000" >DFF</text>
</svg></body></html>
